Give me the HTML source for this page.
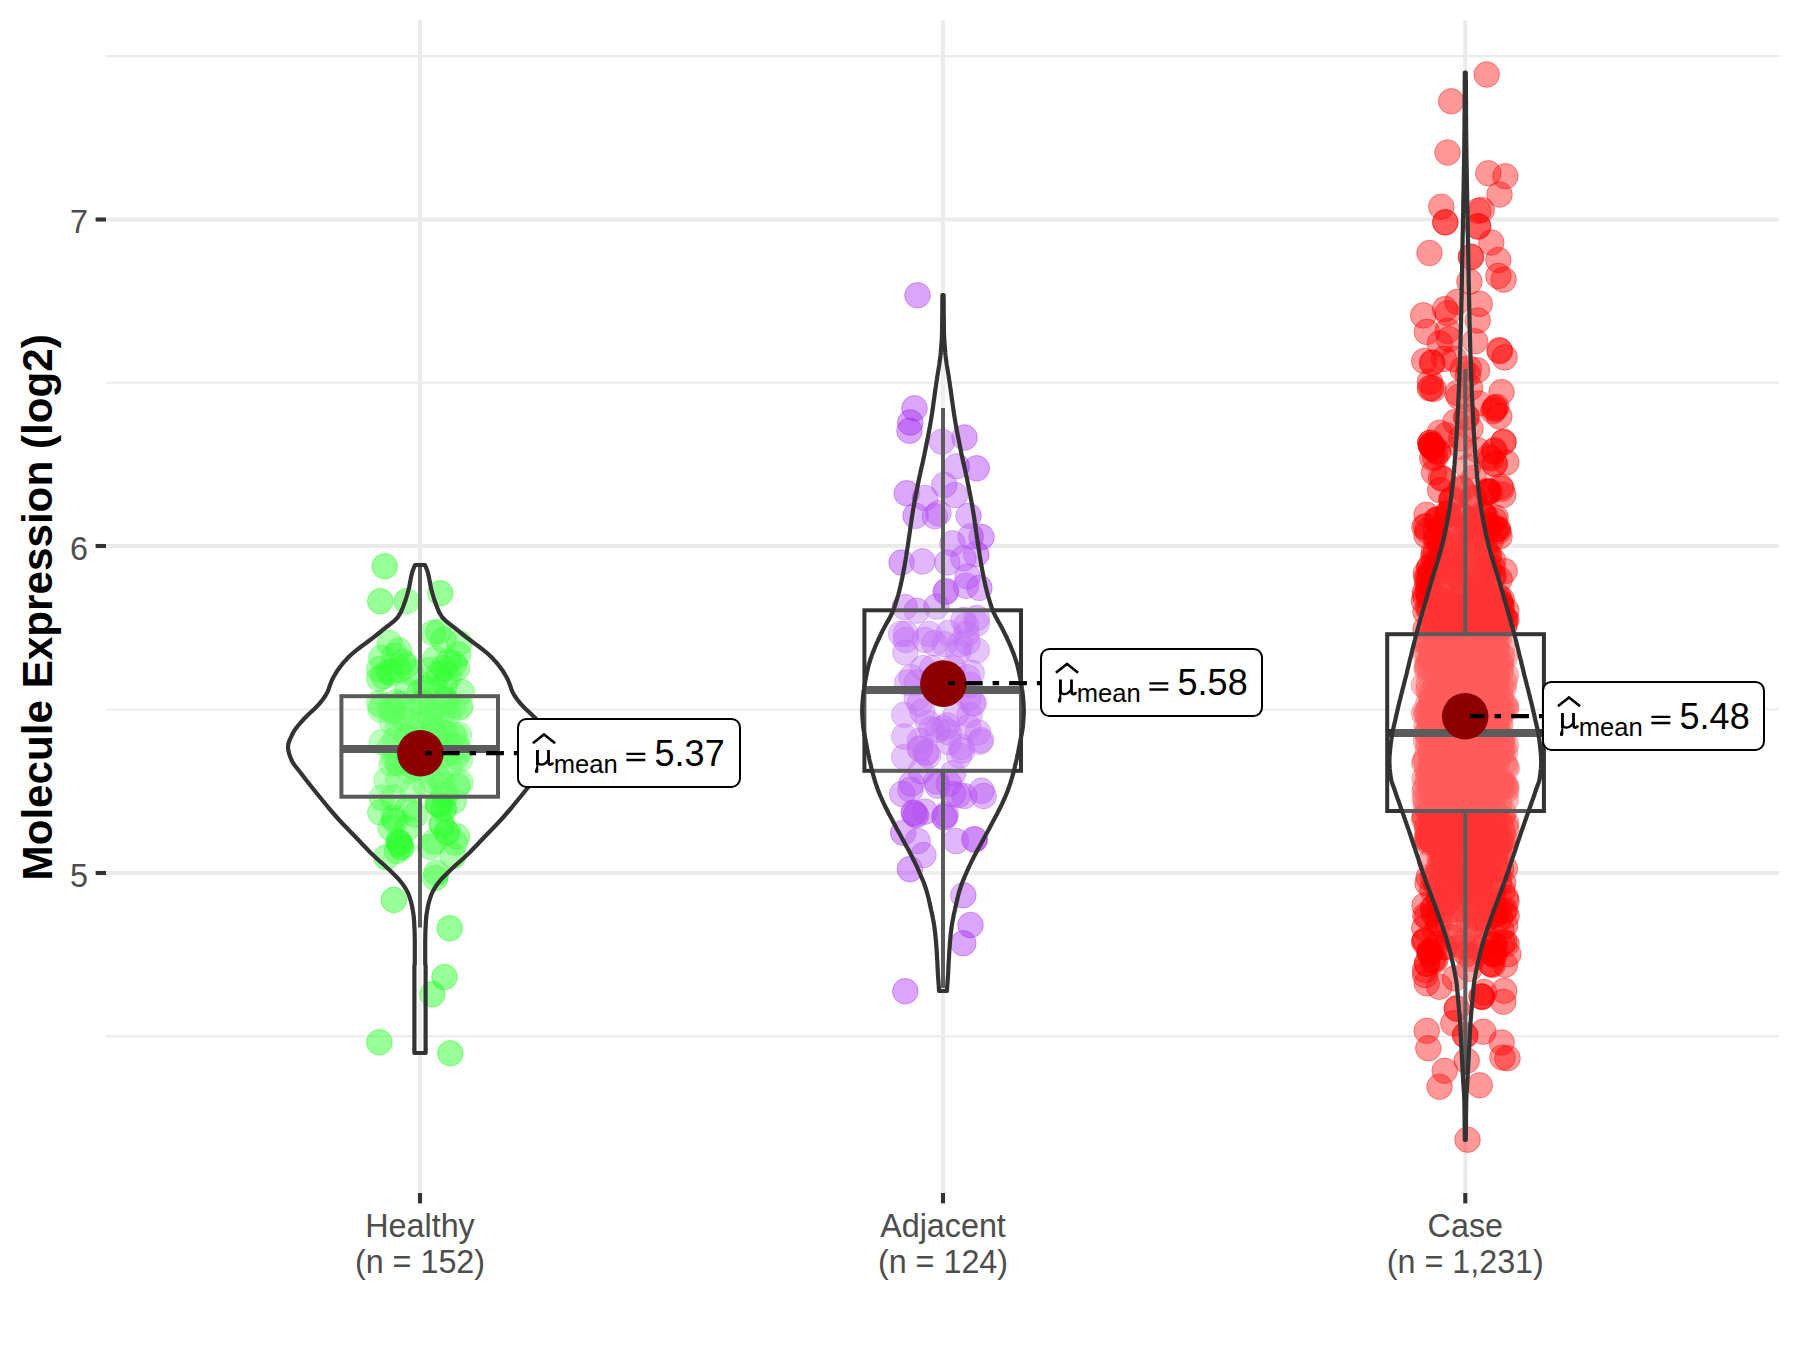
<!DOCTYPE html>
<html><head><meta charset="utf-8"><title>Molecule Expression</title>
<style>
html,body{margin:0;padding:0;background:#fff;}
body{width:1800px;height:1350px;overflow:hidden;font-family:"Liberation Sans",sans-serif;}
svg{display:block;}
</style></head><body>
<svg width="1800" height="1350" viewBox="0 0 1800 1350">
<rect width="1800" height="1350" fill="#fff"/>
<g stroke="#EBEBEB" fill="none">
<path d="M106 56.1 H1779" stroke-width="2.1"/>
<path d="M106 382.8 H1779" stroke-width="2.1"/>
<path d="M106 709.5 H1779" stroke-width="2.1"/>
<path d="M106 1036.4 H1779" stroke-width="2.1"/>
<path d="M106 219.5 H1779" stroke-width="3.9"/>
<path d="M106 546 H1779" stroke-width="3.9"/>
<path d="M106 873 H1779" stroke-width="3.9"/>
<path d="M420 20 V1193" stroke-width="3.9"/>
<path d="M943 20 V1193" stroke-width="3.9"/>
<path d="M1465.3 20 V1193" stroke-width="3.9"/>
</g>
<g stroke="#333333" stroke-width="4.1" fill="none">
<path d="M95.6 219.5 H106"/>
<path d="M95.6 546 H106"/>
<path d="M95.6 873 H106"/>
<path d="M420 1193 V1203.4"/>
<path d="M943 1193 V1203.4"/>
<path d="M1465.3 1193 V1203.4"/>
</g>
<g font-family="Liberation Sans, sans-serif" font-size="32.3" fill="#4D4D4D">
<text x="88" y="233.3" text-anchor="end">7</text>
<text x="88" y="559.8" text-anchor="end">6</text>
<text x="88" y="886.8" text-anchor="end">5</text>
<text x="420" y="1236.7" text-anchor="middle">Healthy</text>
<text x="420" y="1272.7" text-anchor="middle">(n = 152)</text>
<text x="943" y="1236.7" text-anchor="middle">Adjacent</text>
<text x="943" y="1272.7" text-anchor="middle">(n = 124)</text>
<text x="1465.3" y="1236.7" text-anchor="middle">Case</text>
<text x="1465.3" y="1272.7" text-anchor="middle">(n = 1,231)</text>
</g>
<text transform="translate(52.2 607.4) rotate(-90)" text-anchor="middle" font-family="Liberation Sans, sans-serif" font-weight="bold" font-size="42.2" fill="#000">Molecule Expression (log2)</text>
<g fill="#00FF00" fill-opacity="0.4" stroke="#00FF00" stroke-opacity="0.4" stroke-width="1">
<circle cx="384.7" cy="566.3" r="12.8"/><circle cx="380.3" cy="601.3" r="12.8"/><circle cx="406.7" cy="601.3" r="12.8"/><circle cx="440.3" cy="593.3" r="12.8"/><circle cx="393.8" cy="899.9" r="12.8"/><circle cx="449.7" cy="928.3" r="12.8"/><circle cx="444.5" cy="977" r="12.8"/><circle cx="432.3" cy="994.3" r="12.8"/><circle cx="379.3" cy="1042.3" r="12.8"/><circle cx="450.3" cy="1053.3" r="12.8"/><circle cx="433.2" cy="632.8" r="12.8"/><circle cx="438.4" cy="631.8" r="12.8"/><circle cx="443.5" cy="640.1" r="12.8"/><circle cx="459.1" cy="643.2" r="12.8"/><circle cx="458.1" cy="654.6" r="12.8"/><circle cx="435.2" cy="658.8" r="12.8"/><circle cx="448.7" cy="661.9" r="12.8"/><circle cx="453.9" cy="663.9" r="12.8"/><circle cx="443.5" cy="668.1" r="12.8"/><circle cx="438.4" cy="674.3" r="12.8"/><circle cx="448.7" cy="676.4" r="12.8"/><circle cx="434.2" cy="682.6" r="12.8"/><circle cx="444.6" cy="684.7" r="12.8"/><circle cx="457" cy="668.1" r="12.8"/><circle cx="430.1" cy="670.2" r="12.8"/><circle cx="461.7" cy="692" r="12.8"/><circle cx="425.9" cy="688.8" r="12.8"/><circle cx="419.7" cy="692" r="12.8"/><circle cx="389.6" cy="643.2" r="12.8"/><circle cx="398.9" cy="650.5" r="12.8"/><circle cx="381.3" cy="657.7" r="12.8"/><circle cx="394.8" cy="655.6" r="12.8"/><circle cx="403.1" cy="661.9" r="12.8"/><circle cx="379.2" cy="669.1" r="12.8"/><circle cx="388.6" cy="671.2" r="12.8"/><circle cx="398.9" cy="670.2" r="12.8"/><circle cx="383.4" cy="676.4" r="12.8"/><circle cx="390.6" cy="673.3" r="12.8"/><circle cx="379.2" cy="678.5" r="12.8"/><circle cx="406.2" cy="666" r="12.8"/><circle cx="411.4" cy="672.2" r="12.8"/><circle cx="407.2" cy="690.9" r="12.8"/><circle cx="379.2" cy="703.4" r="12.8"/><circle cx="380.3" cy="812.5" r="12.8"/><circle cx="393.8" cy="817.7" r="12.8"/><circle cx="394.8" cy="820.8" r="12.8"/><circle cx="407.2" cy="809.4" r="12.8"/><circle cx="415.5" cy="814.6" r="12.8"/><circle cx="438.4" cy="804.2" r="12.8"/><circle cx="438.9" cy="804.9" r="12.8"/><circle cx="437.6" cy="803.6" r="12.8"/><circle cx="443.5" cy="808.4" r="12.8"/><circle cx="444" cy="809" r="12.8"/><circle cx="453.9" cy="801.1" r="12.8"/><circle cx="441.5" cy="823.9" r="12.8"/><circle cx="442" cy="824.6" r="12.8"/><circle cx="446.7" cy="832.2" r="12.8"/><circle cx="447.2" cy="832.8" r="12.8"/><circle cx="457" cy="836.4" r="12.8"/><circle cx="455" cy="842.6" r="12.8"/><circle cx="434.2" cy="841.6" r="12.8"/><circle cx="430.1" cy="846.8" r="12.8"/><circle cx="398.9" cy="842.6" r="12.8"/><circle cx="399.4" cy="843.2" r="12.8"/><circle cx="398.2" cy="841.8" r="12.8"/><circle cx="399.9" cy="844" r="12.8"/><circle cx="401" cy="846.8" r="12.8"/><circle cx="401.6" cy="847.4" r="12.8"/><circle cx="396.9" cy="850.9" r="12.8"/><circle cx="386.5" cy="857.1" r="12.8"/><circle cx="452.9" cy="856.1" r="12.8"/><circle cx="436.3" cy="872.7" r="12.8"/><circle cx="435.2" cy="877.9" r="12.8"/><circle cx="407.2" cy="828.1" r="12.8"/><circle cx="390.6" cy="828.1" r="12.8"/><circle cx="422.8" cy="733.7" r="12.8"/><circle cx="391.5" cy="763.6" r="12.8"/><circle cx="424" cy="752.9" r="12.8"/><circle cx="381.7" cy="706" r="12.8"/><circle cx="422.8" cy="703.9" r="12.8"/><circle cx="459.7" cy="707.6" r="12.8"/><circle cx="450.3" cy="743.3" r="12.8"/><circle cx="436.6" cy="713.7" r="12.8"/><circle cx="400.9" cy="761.4" r="12.8"/><circle cx="409.6" cy="756.9" r="12.8"/><circle cx="393.2" cy="797.5" r="12.8"/><circle cx="442.8" cy="783.8" r="12.8"/><circle cx="423.2" cy="715.6" r="12.8"/><circle cx="443.4" cy="732.3" r="12.8"/><circle cx="406.5" cy="720.1" r="12.8"/><circle cx="397.8" cy="761.9" r="12.8"/><circle cx="446" cy="753.6" r="12.8"/><circle cx="460.3" cy="706.7" r="12.8"/><circle cx="449.4" cy="765.9" r="12.8"/><circle cx="445.6" cy="733.1" r="12.8"/><circle cx="446.6" cy="744.8" r="12.8"/><circle cx="440.2" cy="778.2" r="12.8"/><circle cx="398.1" cy="726.1" r="12.8"/><circle cx="421.9" cy="752.4" r="12.8"/><circle cx="408.7" cy="770.8" r="12.8"/><circle cx="381.9" cy="797.6" r="12.8"/><circle cx="381.8" cy="742.3" r="12.8"/><circle cx="402.4" cy="717" r="12.8"/><circle cx="400.8" cy="704.2" r="12.8"/><circle cx="436.3" cy="775.1" r="12.8"/><circle cx="457.9" cy="785.8" r="12.8"/><circle cx="416.2" cy="768.1" r="12.8"/><circle cx="456.3" cy="757" r="12.8"/><circle cx="460.5" cy="782.4" r="12.8"/><circle cx="457.8" cy="747.2" r="12.8"/><circle cx="409.4" cy="707.2" r="12.8"/><circle cx="397.6" cy="763.5" r="12.8"/><circle cx="398.1" cy="779.8" r="12.8"/><circle cx="395.6" cy="739.2" r="12.8"/><circle cx="396.3" cy="702" r="12.8"/><circle cx="430.7" cy="717.6" r="12.8"/><circle cx="453.3" cy="706.3" r="12.8"/><circle cx="448.4" cy="713.7" r="12.8"/><circle cx="418.8" cy="740.4" r="12.8"/><circle cx="433" cy="708.9" r="12.8"/><circle cx="445.1" cy="754.4" r="12.8"/><circle cx="386.5" cy="780.4" r="12.8"/><circle cx="433.7" cy="728.9" r="12.8"/><circle cx="454.1" cy="737.4" r="12.8"/><circle cx="443.6" cy="794.7" r="12.8"/><circle cx="441" cy="718.7" r="12.8"/><circle cx="418.7" cy="725" r="12.8"/><circle cx="394.1" cy="757.8" r="12.8"/><circle cx="444.2" cy="699.9" r="12.8"/><circle cx="406.8" cy="738.1" r="12.8"/><circle cx="445.2" cy="795.2" r="12.8"/><circle cx="459.2" cy="751.1" r="12.8"/><circle cx="412" cy="765.6" r="12.8"/><circle cx="412.4" cy="789.3" r="12.8"/><circle cx="457.1" cy="786.3" r="12.8"/><circle cx="438.9" cy="739.9" r="12.8"/><circle cx="393.4" cy="711.1" r="12.8"/><circle cx="389.9" cy="706.6" r="12.8"/><circle cx="391.9" cy="721.7" r="12.8"/><circle cx="453.7" cy="734.6" r="12.8"/><circle cx="445.6" cy="699.7" r="12.8"/><circle cx="391.5" cy="710.9" r="12.8"/><circle cx="447.3" cy="703.4" r="12.8"/><circle cx="459.9" cy="759.6" r="12.8"/><circle cx="433.4" cy="726.8" r="12.8"/><circle cx="408.2" cy="736.6" r="12.8"/><circle cx="424.5" cy="783.5" r="12.8"/><circle cx="390.2" cy="747" r="12.8"/><circle cx="380.7" cy="709.6" r="12.8"/><circle cx="459.1" cy="734.8" r="12.8"/><circle cx="432.8" cy="780.7" r="12.8"/><circle cx="422.7" cy="702.5" r="12.8"/>
</g>
<g fill="#A020F0" fill-opacity="0.4" stroke="#A020F0" stroke-opacity="0.4" stroke-width="1">
<circle cx="917.5" cy="295.3" r="12.8"/><circle cx="914.5" cy="408.3" r="12.8"/><circle cx="910.3" cy="422.5" r="12.8"/><circle cx="909.5" cy="430.8" r="12.8"/><circle cx="942" cy="441.7" r="12.8"/><circle cx="964.5" cy="437.5" r="12.8"/><circle cx="956.7" cy="466.2" r="12.8"/><circle cx="976.7" cy="468.3" r="12.8"/><circle cx="944.2" cy="485" r="12.8"/><circle cx="906.7" cy="493.3" r="12.8"/><circle cx="955" cy="495" r="12.8"/><circle cx="925" cy="498" r="12.8"/><circle cx="915.6" cy="515.8" r="12.8"/><circle cx="934.8" cy="516.3" r="12.8"/><circle cx="938.5" cy="513.2" r="12.8"/><circle cx="968.5" cy="515.8" r="12.8"/><circle cx="970.6" cy="536.5" r="12.8"/><circle cx="981.5" cy="537.1" r="12.8"/><circle cx="952.5" cy="543.3" r="12.8"/><circle cx="901.6" cy="562.5" r="12.8"/><circle cx="922.4" cy="561.4" r="12.8"/><circle cx="947.3" cy="562.5" r="12.8"/><circle cx="963.4" cy="558.3" r="12.8"/><circle cx="976.3" cy="554.2" r="12.8"/><circle cx="967.5" cy="576.5" r="12.8"/><circle cx="966" cy="585.8" r="12.8"/><circle cx="979.4" cy="587.9" r="12.8"/><circle cx="946.2" cy="591" r="12.8"/><circle cx="945.7" cy="592" r="12.8"/><circle cx="904.8" cy="607.1" r="12.8"/><circle cx="916.7" cy="610.7" r="12.8"/><circle cx="936.4" cy="606.6" r="12.8"/><circle cx="976.8" cy="618" r="12.8"/><circle cx="963.4" cy="620" r="12.8"/><circle cx="901.1" cy="633.9" r="12.8"/><circle cx="905.8" cy="633.9" r="12.8"/><circle cx="929.1" cy="633.9" r="12.8"/><circle cx="966.5" cy="633.9" r="12.8"/><circle cx="976.8" cy="623.5" r="12.8"/><circle cx="966" cy="625.6" r="12.8"/><circle cx="948.8" cy="632.8" r="12.8"/><circle cx="905.8" cy="640" r="12.8"/><circle cx="925" cy="640" r="12.8"/><circle cx="934.3" cy="643.2" r="12.8"/><circle cx="944.7" cy="644.2" r="12.8"/><circle cx="960.3" cy="644.2" r="12.8"/><circle cx="967.5" cy="642.2" r="12.8"/><circle cx="905.3" cy="652.5" r="12.8"/><circle cx="976.8" cy="650.5" r="12.8"/><circle cx="958.2" cy="651.5" r="12.8"/><circle cx="922.9" cy="668.1" r="12.8"/><circle cx="911.5" cy="677.4" r="12.8"/><circle cx="907.3" cy="682.6" r="12.8"/><circle cx="916.7" cy="682.6" r="12.8"/><circle cx="967.5" cy="677.4" r="12.8"/><circle cx="969.6" cy="684.7" r="12.8"/><circle cx="932.2" cy="668.1" r="12.8"/><circle cx="953" cy="668" r="12.8"/><circle cx="904.2" cy="714.8" r="12.8"/><circle cx="922.4" cy="711.7" r="12.8"/><circle cx="928.1" cy="723.1" r="12.8"/><circle cx="956.1" cy="713.7" r="12.8"/><circle cx="969.6" cy="714.8" r="12.8"/><circle cx="968.5" cy="727.2" r="12.8"/><circle cx="977.9" cy="732.4" r="12.8"/><circle cx="904.2" cy="736.6" r="12.8"/><circle cx="919.8" cy="740.7" r="12.8"/><circle cx="931.2" cy="729.3" r="12.8"/><circle cx="948.8" cy="732.4" r="12.8"/><circle cx="961.3" cy="746.9" r="12.8"/><circle cx="980" cy="741.7" r="12.8"/><circle cx="916.7" cy="698.2" r="12.8"/><circle cx="968.5" cy="698.2" r="12.8"/><circle cx="973.7" cy="703.4" r="12.8"/><circle cx="919.8" cy="703.4" r="12.8"/><circle cx="904.2" cy="757.1" r="12.8"/><circle cx="919.8" cy="748.3" r="12.8"/><circle cx="920.3" cy="748.9" r="12.8"/><circle cx="926" cy="752.4" r="12.8"/><circle cx="926.5" cy="753" r="12.8"/><circle cx="928.1" cy="755.6" r="12.8"/><circle cx="959.2" cy="755.6" r="12.8"/><circle cx="962.3" cy="750.4" r="12.8"/><circle cx="981" cy="740" r="12.8"/><circle cx="948.8" cy="742" r="12.8"/><circle cx="920.8" cy="771.1" r="12.8"/><circle cx="953" cy="773.2" r="12.8"/><circle cx="911.5" cy="783.6" r="12.8"/><circle cx="902.2" cy="793.9" r="12.8"/><circle cx="910.5" cy="789.8" r="12.8"/><circle cx="936.4" cy="781.5" r="12.8"/><circle cx="937.4" cy="785.6" r="12.8"/><circle cx="948.8" cy="783.6" r="12.8"/><circle cx="953" cy="793.9" r="12.8"/><circle cx="958.2" cy="795" r="12.8"/><circle cx="964.4" cy="796" r="12.8"/><circle cx="981.5" cy="790.8" r="12.8"/><circle cx="983.6" cy="796" r="12.8"/><circle cx="913.6" cy="812.6" r="12.8"/><circle cx="914.1" cy="813.2" r="12.8"/><circle cx="915.6" cy="814.7" r="12.8"/><circle cx="916.1" cy="815.3" r="12.8"/><circle cx="925" cy="811.6" r="12.8"/><circle cx="944.2" cy="816.8" r="12.8"/><circle cx="944.7" cy="817.4" r="12.8"/><circle cx="945.7" cy="814.7" r="12.8"/><circle cx="903.2" cy="832.8" r="12.8"/><circle cx="917.7" cy="841.1" r="12.8"/><circle cx="923.4" cy="855.1" r="12.8"/><circle cx="909.9" cy="869.1" r="12.8"/><circle cx="956.1" cy="841.1" r="12.8"/><circle cx="974.3" cy="839.1" r="12.8"/><circle cx="974.8" cy="839.7" r="12.8"/><circle cx="963.3" cy="895.3" r="12.8"/><circle cx="970.5" cy="925" r="12.8"/><circle cx="963.3" cy="943.3" r="12.8"/><circle cx="905.3" cy="991.3" r="12.8"/><circle cx="937.8" cy="729.9" r="12.8"/><circle cx="947.3" cy="725.3" r="12.8"/><circle cx="971.7" cy="672.8" r="12.8"/><circle cx="935" cy="678.7" r="12.8"/><circle cx="972.7" cy="702.8" r="12.8"/><circle cx="941.1" cy="689.6" r="12.8"/><circle cx="943.4" cy="727.9" r="12.8"/>
</g>
<g fill="#FF0000" fill-opacity="0.4" stroke="#FF0000" stroke-opacity="0.4" stroke-width="1">
<circle cx="1486.7" cy="74.5" r="12.8"/><circle cx="1451.2" cy="101.3" r="12.8"/><circle cx="1447.5" cy="152.5" r="12.8"/><circle cx="1488.3" cy="173.3" r="12.8"/><circle cx="1505.3" cy="176.3" r="12.8"/><circle cx="1499.5" cy="194.5" r="12.8"/><circle cx="1441.3" cy="206.7" r="12.8"/><circle cx="1445.3" cy="222.2" r="12.8"/><circle cx="1445.3" cy="222.4" r="12.8"/><circle cx="1478.3" cy="210.8" r="12.8"/><circle cx="1481.7" cy="210" r="12.8"/><circle cx="1478" cy="226.3" r="12.8"/><circle cx="1478.2" cy="226.6" r="12.8"/><circle cx="1491.3" cy="242.5" r="12.8"/><circle cx="1429.5" cy="253" r="12.8"/><circle cx="1470.8" cy="256.7" r="12.8"/><circle cx="1471.2" cy="257" r="12.8"/><circle cx="1498.3" cy="260" r="12.8"/><circle cx="1426.7" cy="1030.8" r="12.8"/><circle cx="1428.3" cy="1048.3" r="12.8"/><circle cx="1444.7" cy="1070.8" r="12.8"/><circle cx="1439.5" cy="1086.7" r="12.8"/><circle cx="1466.7" cy="1060.8" r="12.8"/><circle cx="1479.7" cy="1085.3" r="12.8"/><circle cx="1501.7" cy="1042.5" r="12.8"/><circle cx="1502.5" cy="1057.5" r="12.8"/><circle cx="1507.5" cy="1058.3" r="12.8"/><circle cx="1483.3" cy="1031.7" r="12.8"/><circle cx="1453.3" cy="1023.3" r="12.8"/><circle cx="1465" cy="1035" r="12.8"/><circle cx="1465.4" cy="1035.4" r="12.8"/><circle cx="1456.7" cy="1008.3" r="12.8"/><circle cx="1457" cy="1008.8" r="12.8"/><circle cx="1503.3" cy="1001.7" r="12.8"/><circle cx="1504.2" cy="990.8" r="12.8"/><circle cx="1481.7" cy="996.7" r="12.8"/><circle cx="1482" cy="997" r="12.8"/><circle cx="1481.4" cy="996.2" r="12.8"/><circle cx="1426.7" cy="983.3" r="12.8"/><circle cx="1439.2" cy="986.7" r="12.8"/><circle cx="1425" cy="970" r="12.8"/><circle cx="1455" cy="978.3" r="12.8"/><circle cx="1508.3" cy="954.2" r="12.8"/><circle cx="1467.5" cy="1139.7" r="12.8"/><circle cx="1469.4" cy="281.6" r="12.8"/><circle cx="1498.4" cy="275.9" r="12.8"/><circle cx="1503.6" cy="279.6" r="12.8"/><circle cx="1457.4" cy="301.9" r="12.8"/><circle cx="1479.7" cy="303.9" r="12.8"/><circle cx="1445" cy="309.1" r="12.8"/><circle cx="1447.6" cy="313.3" r="12.8"/><circle cx="1423.2" cy="315.4" r="12.8"/><circle cx="1477.7" cy="320.5" r="12.8"/><circle cx="1426.8" cy="331.9" r="12.8"/><circle cx="1447.6" cy="330.9" r="12.8"/><circle cx="1439.8" cy="343.4" r="12.8"/><circle cx="1449.1" cy="339.2" r="12.8"/><circle cx="1475.1" cy="341.3" r="12.8"/><circle cx="1499.4" cy="350.1" r="12.8"/><circle cx="1500" cy="351.1" r="12.8"/><circle cx="1504.6" cy="357.4" r="12.8"/><circle cx="1424.2" cy="361" r="12.8"/><circle cx="1432" cy="362.6" r="12.8"/><circle cx="1432.4" cy="363" r="12.8"/><circle cx="1443.9" cy="358.9" r="12.8"/><circle cx="1454.3" cy="358.9" r="12.8"/><circle cx="1462.6" cy="369.3" r="12.8"/><circle cx="1468.8" cy="368.3" r="12.8"/><circle cx="1477.1" cy="370.3" r="12.8"/><circle cx="1467.8" cy="374.5" r="12.8"/><circle cx="1429.9" cy="381.7" r="12.8"/><circle cx="1433.6" cy="389" r="12.8"/><circle cx="1501.5" cy="392.1" r="12.8"/><circle cx="1457.4" cy="393" r="12.8"/><circle cx="1429.8" cy="388.3" r="12.8"/><circle cx="1431.2" cy="388" r="12.8"/><circle cx="1459" cy="396.7" r="12.8"/><circle cx="1470" cy="388" r="12.8"/><circle cx="1478.6" cy="403.5" r="12.8"/><circle cx="1494.6" cy="407.7" r="12.8"/><circle cx="1494.6" cy="409.2" r="12.8"/><circle cx="1496.4" cy="406.9" r="12.8"/><circle cx="1499.3" cy="416.5" r="12.8"/><circle cx="1493.2" cy="411.3" r="12.8"/><circle cx="1455.4" cy="421.9" r="12.8"/><circle cx="1466.9" cy="416.9" r="12.8"/><circle cx="1465.9" cy="417.4" r="12.8"/><circle cx="1470.5" cy="428.5" r="12.8"/><circle cx="1439.6" cy="432.7" r="12.8"/><circle cx="1446.1" cy="435.2" r="12.8"/><circle cx="1431.5" cy="446.7" r="12.8"/><circle cx="1431.4" cy="445.5" r="12.8"/><circle cx="1433" cy="447.7" r="12.8"/><circle cx="1432.5" cy="446.8" r="12.8"/><circle cx="1430.9" cy="445.4" r="12.8"/><circle cx="1430.9" cy="444.9" r="12.8"/><circle cx="1430.2" cy="442.8" r="12.8"/><circle cx="1430.4" cy="442.8" r="12.8"/><circle cx="1438.1" cy="452.4" r="12.8"/><circle cx="1435.2" cy="450.5" r="12.8"/><circle cx="1437.9" cy="451.3" r="12.8"/><circle cx="1435" cy="457.3" r="12.8"/><circle cx="1432.3" cy="458" r="12.8"/><circle cx="1461.3" cy="438.2" r="12.8"/><circle cx="1461.4" cy="446.7" r="12.8"/><circle cx="1477.5" cy="450.1" r="12.8"/><circle cx="1503.5" cy="442.3" r="12.8"/><circle cx="1503.4" cy="441.8" r="12.8"/><circle cx="1494.6" cy="450.4" r="12.8"/><circle cx="1493.9" cy="451.2" r="12.8"/><circle cx="1506.3" cy="462.5" r="12.8"/><circle cx="1494.7" cy="464.2" r="12.8"/><circle cx="1494.6" cy="463.6" r="12.8"/><circle cx="1488.7" cy="456.9" r="12.8"/><circle cx="1491" cy="458.5" r="12.8"/><circle cx="1434" cy="472.3" r="12.8"/><circle cx="1441" cy="478.1" r="12.8"/><circle cx="1443" cy="478.8" r="12.8"/><circle cx="1440.1" cy="490.2" r="12.8"/><circle cx="1467.9" cy="467.3" r="12.8"/><circle cx="1473.8" cy="477.9" r="12.8"/><circle cx="1487.9" cy="490.5" r="12.8"/><circle cx="1487.3" cy="492" r="12.8"/><circle cx="1487.7" cy="492.1" r="12.8"/><circle cx="1488.1" cy="491.7" r="12.8"/><circle cx="1489.9" cy="491.8" r="12.8"/><circle cx="1501.7" cy="488.8" r="12.8"/><circle cx="1500.5" cy="486.7" r="12.8"/><circle cx="1503.2" cy="494.9" r="12.8"/><circle cx="1426.5" cy="514.8" r="12.8"/><circle cx="1437.4" cy="520.1" r="12.8"/><circle cx="1435.8" cy="520.2" r="12.8"/><circle cx="1437.8" cy="519.1" r="12.8"/><circle cx="1495.6" cy="517.6" r="12.8"/><circle cx="1494.4" cy="520.2" r="12.8"/><circle cx="1451.4" cy="499.7" r="12.8"/><circle cx="1451.5" cy="500.1" r="12.8"/><circle cx="1452.5" cy="498.5" r="12.8"/><circle cx="1461.6" cy="489.4" r="12.8"/><circle cx="1461.3" cy="487.9" r="12.8"/><circle cx="1462.8" cy="489.8" r="12.8"/><circle cx="1473.3" cy="498.4" r="12.8"/><circle cx="1474.3" cy="498.2" r="12.8"/><circle cx="1471.5" cy="498.4" r="12.8"/><circle cx="1447.8" cy="513.4" r="12.8"/><circle cx="1447" cy="514.3" r="12.8"/><circle cx="1448.2" cy="513.6" r="12.8"/><circle cx="1483" cy="515.9" r="12.8"/><circle cx="1484.8" cy="515.2" r="12.8"/><circle cx="1484" cy="515" r="12.8"/><circle cx="1482.3" cy="513.3" r="12.8"/><circle cx="1461.2" cy="515.9" r="12.8"/><circle cx="1463.2" cy="516.1" r="12.8"/><circle cx="1461.2" cy="515.1" r="12.8"/><circle cx="1472.9" cy="520.7" r="12.8"/><circle cx="1472.5" cy="521.5" r="12.8"/><circle cx="1471.7" cy="520.1" r="12.8"/><circle cx="1430.1" cy="952.5" r="12.8"/><circle cx="1430.1" cy="951.9" r="12.8"/><circle cx="1430.3" cy="952.5" r="12.8"/><circle cx="1429" cy="951.9" r="12.8"/><circle cx="1430.6" cy="952.4" r="12.8"/><circle cx="1424" cy="941.8" r="12.8"/><circle cx="1425.3" cy="941.1" r="12.8"/><circle cx="1424.6" cy="940.5" r="12.8"/><circle cx="1433.8" cy="959.9" r="12.8"/><circle cx="1432.3" cy="960" r="12.8"/><circle cx="1435.1" cy="960.7" r="12.8"/><circle cx="1427" cy="963.4" r="12.8"/><circle cx="1427" cy="963.9" r="12.8"/><circle cx="1425.1" cy="975.1" r="12.8"/><circle cx="1466.6" cy="954.2" r="12.8"/><circle cx="1466.4" cy="953.7" r="12.8"/><circle cx="1471.9" cy="958.8" r="12.8"/><circle cx="1469.4" cy="968.9" r="12.8"/><circle cx="1462.9" cy="947.3" r="12.8"/><circle cx="1461.9" cy="944.5" r="12.8"/><circle cx="1493.1" cy="953.9" r="12.8"/><circle cx="1492.8" cy="952.4" r="12.8"/><circle cx="1494.9" cy="953.9" r="12.8"/><circle cx="1493.5" cy="954.6" r="12.8"/><circle cx="1491.2" cy="964.2" r="12.8"/><circle cx="1490.8" cy="963.5" r="12.8"/><circle cx="1492.6" cy="964.9" r="12.8"/><circle cx="1494.8" cy="944.7" r="12.8"/><circle cx="1493.9" cy="944.4" r="12.8"/><circle cx="1492.6" cy="945" r="12.8"/><circle cx="1505" cy="964.7" r="12.8"/><circle cx="1484" cy="992.1" r="12.8"/><circle cx="1444.3" cy="947" r="12.8"/><circle cx="1444.9" cy="947.3" r="12.8"/><circle cx="1479.1" cy="949.7" r="12.8"/><circle cx="1480.4" cy="950" r="12.8"/><circle cx="1502.4" cy="943" r="12.8"/><circle cx="1504.4" cy="941.9" r="12.8"/><circle cx="1499.2" cy="748.5" r="12.8"/><circle cx="1488.1" cy="724.7" r="12.8"/><circle cx="1497.1" cy="529.3" r="12.8"/><circle cx="1495.3" cy="632" r="12.8"/><circle cx="1434.8" cy="807.1" r="12.8"/><circle cx="1446.8" cy="690" r="12.8"/><circle cx="1426.3" cy="758.3" r="12.8"/><circle cx="1480.2" cy="601.1" r="12.8"/><circle cx="1478.9" cy="662.8" r="12.8"/><circle cx="1453" cy="822" r="12.8"/><circle cx="1458" cy="759.3" r="12.8"/><circle cx="1478.5" cy="881.9" r="12.8"/><circle cx="1481.8" cy="773" r="12.8"/><circle cx="1444.4" cy="746.2" r="12.8"/><circle cx="1494.1" cy="729" r="12.8"/><circle cx="1453" cy="736.4" r="12.8"/><circle cx="1476" cy="799.4" r="12.8"/><circle cx="1438.9" cy="898.8" r="12.8"/><circle cx="1433.4" cy="759.4" r="12.8"/><circle cx="1499.6" cy="847.6" r="12.8"/><circle cx="1484.7" cy="608.9" r="12.8"/><circle cx="1482.9" cy="581.7" r="12.8"/><circle cx="1427.2" cy="583.2" r="12.8"/><circle cx="1427.1" cy="827.4" r="12.8"/><circle cx="1437.2" cy="625.2" r="12.8"/><circle cx="1440.2" cy="786.6" r="12.8"/><circle cx="1449" cy="867.5" r="12.8"/><circle cx="1455.4" cy="652.5" r="12.8"/><circle cx="1427.1" cy="713" r="12.8"/><circle cx="1449.6" cy="937.3" r="12.8"/><circle cx="1476.8" cy="627.9" r="12.8"/><circle cx="1438.7" cy="746.8" r="12.8"/><circle cx="1493.5" cy="641.8" r="12.8"/><circle cx="1471.1" cy="805.5" r="12.8"/><circle cx="1483.3" cy="756.9" r="12.8"/><circle cx="1444.9" cy="542.8" r="12.8"/><circle cx="1459.9" cy="777" r="12.8"/><circle cx="1480.6" cy="577.5" r="12.8"/><circle cx="1452.8" cy="828.5" r="12.8"/><circle cx="1423.9" cy="600.8" r="12.8"/><circle cx="1493" cy="560.3" r="12.8"/><circle cx="1488.2" cy="670.6" r="12.8"/><circle cx="1447.6" cy="720.4" r="12.8"/><circle cx="1427.4" cy="839.8" r="12.8"/><circle cx="1494.7" cy="622.4" r="12.8"/><circle cx="1474.2" cy="762.2" r="12.8"/><circle cx="1427.7" cy="591.6" r="12.8"/><circle cx="1444.1" cy="794.9" r="12.8"/><circle cx="1433" cy="582.4" r="12.8"/><circle cx="1489.5" cy="780.3" r="12.8"/><circle cx="1441.2" cy="589.4" r="12.8"/><circle cx="1499.7" cy="579.4" r="12.8"/><circle cx="1486" cy="728.8" r="12.8"/><circle cx="1430.9" cy="757.4" r="12.8"/><circle cx="1481.5" cy="669.6" r="12.8"/><circle cx="1456.5" cy="749.7" r="12.8"/><circle cx="1485.8" cy="602.7" r="12.8"/><circle cx="1492.6" cy="567.7" r="12.8"/><circle cx="1447.1" cy="684.8" r="12.8"/><circle cx="1431.3" cy="817.8" r="12.8"/><circle cx="1502.3" cy="741.7" r="12.8"/><circle cx="1459" cy="696.5" r="12.8"/><circle cx="1501" cy="662.5" r="12.8"/><circle cx="1481.2" cy="809.1" r="12.8"/><circle cx="1485.1" cy="640" r="12.8"/><circle cx="1492.7" cy="893.6" r="12.8"/><circle cx="1475.9" cy="839.9" r="12.8"/><circle cx="1461.4" cy="741.3" r="12.8"/><circle cx="1428.3" cy="711" r="12.8"/><circle cx="1481.8" cy="795.5" r="12.8"/><circle cx="1459.4" cy="695.3" r="12.8"/><circle cx="1466.3" cy="801.1" r="12.8"/><circle cx="1500.8" cy="714.8" r="12.8"/><circle cx="1434.4" cy="570.6" r="12.8"/><circle cx="1487" cy="581.2" r="12.8"/><circle cx="1427.4" cy="664.7" r="12.8"/><circle cx="1482.1" cy="589.3" r="12.8"/><circle cx="1490.7" cy="861.2" r="12.8"/><circle cx="1445.5" cy="674.7" r="12.8"/><circle cx="1469.2" cy="679" r="12.8"/><circle cx="1504.3" cy="625.9" r="12.8"/><circle cx="1476.7" cy="668.5" r="12.8"/><circle cx="1468.9" cy="921" r="12.8"/><circle cx="1444.5" cy="661.5" r="12.8"/><circle cx="1428.7" cy="683.9" r="12.8"/><circle cx="1453.5" cy="525.9" r="12.8"/><circle cx="1458" cy="735" r="12.8"/><circle cx="1440.5" cy="644" r="12.8"/><circle cx="1449.6" cy="529.8" r="12.8"/><circle cx="1435.1" cy="591.9" r="12.8"/><circle cx="1482.5" cy="561.5" r="12.8"/><circle cx="1479.4" cy="682.7" r="12.8"/><circle cx="1443.5" cy="766" r="12.8"/><circle cx="1443.9" cy="815.2" r="12.8"/><circle cx="1466.6" cy="804.4" r="12.8"/><circle cx="1460.7" cy="709.8" r="12.8"/><circle cx="1501.5" cy="930.6" r="12.8"/><circle cx="1453" cy="806.1" r="12.8"/><circle cx="1448.6" cy="563.3" r="12.8"/><circle cx="1497.2" cy="871.1" r="12.8"/><circle cx="1435.6" cy="809.3" r="12.8"/><circle cx="1470.6" cy="618" r="12.8"/><circle cx="1451.5" cy="744.3" r="12.8"/><circle cx="1491.5" cy="834.3" r="12.8"/><circle cx="1469.3" cy="766.4" r="12.8"/><circle cx="1486.9" cy="794.2" r="12.8"/><circle cx="1437.8" cy="655.5" r="12.8"/><circle cx="1479.1" cy="614.9" r="12.8"/><circle cx="1473.5" cy="601.3" r="12.8"/><circle cx="1462.1" cy="759.1" r="12.8"/><circle cx="1487.4" cy="777.2" r="12.8"/><circle cx="1492.8" cy="738.5" r="12.8"/><circle cx="1433.3" cy="832.2" r="12.8"/><circle cx="1447.8" cy="743" r="12.8"/><circle cx="1453.7" cy="786.6" r="12.8"/><circle cx="1440.9" cy="809.8" r="12.8"/><circle cx="1428.8" cy="582.8" r="12.8"/><circle cx="1447.1" cy="807.7" r="12.8"/><circle cx="1440.2" cy="811.5" r="12.8"/><circle cx="1482" cy="740.9" r="12.8"/><circle cx="1461" cy="736.2" r="12.8"/><circle cx="1433.2" cy="821.1" r="12.8"/><circle cx="1450.7" cy="781.6" r="12.8"/><circle cx="1462.7" cy="620.8" r="12.8"/><circle cx="1453.9" cy="812.8" r="12.8"/><circle cx="1437.8" cy="760.5" r="12.8"/><circle cx="1429.8" cy="574.8" r="12.8"/><circle cx="1424.7" cy="790.2" r="12.8"/><circle cx="1506.1" cy="790.8" r="12.8"/><circle cx="1486.1" cy="747" r="12.8"/><circle cx="1430.8" cy="732.6" r="12.8"/><circle cx="1483.3" cy="871.7" r="12.8"/><circle cx="1505.2" cy="925.4" r="12.8"/><circle cx="1470.6" cy="542" r="12.8"/><circle cx="1432.8" cy="840.5" r="12.8"/><circle cx="1464.4" cy="727.8" r="12.8"/><circle cx="1459.8" cy="648.4" r="12.8"/><circle cx="1439.6" cy="648.1" r="12.8"/><circle cx="1468.9" cy="619" r="12.8"/><circle cx="1424.5" cy="905.6" r="12.8"/><circle cx="1500.1" cy="840" r="12.8"/><circle cx="1477.3" cy="869.2" r="12.8"/><circle cx="1475.9" cy="656.4" r="12.8"/><circle cx="1501.4" cy="737.5" r="12.8"/><circle cx="1478" cy="528" r="12.8"/><circle cx="1444.7" cy="727.8" r="12.8"/><circle cx="1444.2" cy="617.8" r="12.8"/><circle cx="1435.3" cy="687.3" r="12.8"/><circle cx="1426.1" cy="526.3" r="12.8"/><circle cx="1488.1" cy="847.6" r="12.8"/><circle cx="1493.5" cy="889.2" r="12.8"/><circle cx="1448.4" cy="875.8" r="12.8"/><circle cx="1439.2" cy="704.9" r="12.8"/><circle cx="1476.8" cy="947.1" r="12.8"/><circle cx="1494" cy="700.9" r="12.8"/><circle cx="1500.7" cy="671.5" r="12.8"/><circle cx="1437.8" cy="599.3" r="12.8"/><circle cx="1488.9" cy="676.4" r="12.8"/><circle cx="1492.7" cy="662.8" r="12.8"/><circle cx="1485.4" cy="744.7" r="12.8"/><circle cx="1450.9" cy="705.5" r="12.8"/><circle cx="1439.1" cy="867.3" r="12.8"/><circle cx="1492.3" cy="779.4" r="12.8"/><circle cx="1450.4" cy="898" r="12.8"/><circle cx="1454.4" cy="804.5" r="12.8"/><circle cx="1469.5" cy="809" r="12.8"/><circle cx="1454.4" cy="816.1" r="12.8"/><circle cx="1492.8" cy="675.5" r="12.8"/><circle cx="1443.7" cy="888.6" r="12.8"/><circle cx="1427.2" cy="733.8" r="12.8"/><circle cx="1470.9" cy="680.2" r="12.8"/><circle cx="1475.9" cy="923.8" r="12.8"/><circle cx="1491.8" cy="785.8" r="12.8"/><circle cx="1482.4" cy="757.9" r="12.8"/><circle cx="1498.9" cy="629.7" r="12.8"/><circle cx="1502.2" cy="647.4" r="12.8"/><circle cx="1464.8" cy="741.7" r="12.8"/><circle cx="1465.3" cy="878.5" r="12.8"/><circle cx="1436.9" cy="727.6" r="12.8"/><circle cx="1448.7" cy="640.6" r="12.8"/><circle cx="1472" cy="694.6" r="12.8"/><circle cx="1430.5" cy="658.8" r="12.8"/><circle cx="1480.9" cy="762.4" r="12.8"/><circle cx="1437.4" cy="814.9" r="12.8"/><circle cx="1460.6" cy="717" r="12.8"/><circle cx="1504.3" cy="705.8" r="12.8"/><circle cx="1431.2" cy="575.8" r="12.8"/><circle cx="1427.1" cy="916.6" r="12.8"/><circle cx="1460.3" cy="743.1" r="12.8"/><circle cx="1439.6" cy="857.7" r="12.8"/><circle cx="1483.8" cy="670.7" r="12.8"/><circle cx="1424" cy="712.9" r="12.8"/><circle cx="1493.6" cy="906.3" r="12.8"/><circle cx="1494.8" cy="861.5" r="12.8"/><circle cx="1489.1" cy="555.2" r="12.8"/><circle cx="1459.1" cy="873" r="12.8"/><circle cx="1447.3" cy="765.5" r="12.8"/><circle cx="1478.7" cy="711.4" r="12.8"/><circle cx="1466.5" cy="842.4" r="12.8"/><circle cx="1458.8" cy="919.7" r="12.8"/><circle cx="1451.9" cy="602.7" r="12.8"/><circle cx="1460.2" cy="749.2" r="12.8"/><circle cx="1479.1" cy="898.2" r="12.8"/><circle cx="1492.4" cy="783.3" r="12.8"/><circle cx="1498.8" cy="730.1" r="12.8"/><circle cx="1437.5" cy="560.3" r="12.8"/><circle cx="1448.3" cy="657.4" r="12.8"/><circle cx="1460.6" cy="782.8" r="12.8"/><circle cx="1470.6" cy="611.8" r="12.8"/><circle cx="1452.7" cy="780.2" r="12.8"/><circle cx="1440" cy="603.6" r="12.8"/><circle cx="1430.9" cy="749.1" r="12.8"/><circle cx="1450.7" cy="709.7" r="12.8"/><circle cx="1462" cy="769.5" r="12.8"/><circle cx="1504.4" cy="682" r="12.8"/><circle cx="1499.2" cy="910.1" r="12.8"/><circle cx="1495.6" cy="867" r="12.8"/><circle cx="1504.7" cy="657.7" r="12.8"/><circle cx="1503.6" cy="911.2" r="12.8"/><circle cx="1475.2" cy="683.5" r="12.8"/><circle cx="1491.1" cy="742.2" r="12.8"/><circle cx="1428.8" cy="718.8" r="12.8"/><circle cx="1479.9" cy="789.4" r="12.8"/><circle cx="1474.4" cy="654.5" r="12.8"/><circle cx="1448.5" cy="693.9" r="12.8"/><circle cx="1471.2" cy="792.7" r="12.8"/><circle cx="1502.9" cy="831.2" r="12.8"/><circle cx="1463.7" cy="743.7" r="12.8"/><circle cx="1477.5" cy="917.8" r="12.8"/><circle cx="1448.6" cy="839.7" r="12.8"/><circle cx="1452.3" cy="652.3" r="12.8"/><circle cx="1497.3" cy="679.5" r="12.8"/><circle cx="1426.1" cy="740.7" r="12.8"/><circle cx="1439.5" cy="652.9" r="12.8"/><circle cx="1480.1" cy="788.4" r="12.8"/><circle cx="1460.9" cy="620.9" r="12.8"/><circle cx="1430.9" cy="649.5" r="12.8"/><circle cx="1478.6" cy="618.6" r="12.8"/><circle cx="1454.7" cy="574.9" r="12.8"/><circle cx="1472" cy="874.4" r="12.8"/><circle cx="1458.4" cy="809.5" r="12.8"/><circle cx="1467.8" cy="891.8" r="12.8"/><circle cx="1470.7" cy="638.4" r="12.8"/><circle cx="1456.7" cy="813.5" r="12.8"/><circle cx="1433.3" cy="787.9" r="12.8"/><circle cx="1438.8" cy="704.8" r="12.8"/><circle cx="1497.7" cy="630.5" r="12.8"/><circle cx="1469.3" cy="673.9" r="12.8"/><circle cx="1433.1" cy="907.6" r="12.8"/><circle cx="1495.4" cy="913.7" r="12.8"/><circle cx="1444.8" cy="700.3" r="12.8"/><circle cx="1431.7" cy="840.9" r="12.8"/><circle cx="1467.9" cy="567" r="12.8"/><circle cx="1444.7" cy="705.4" r="12.8"/><circle cx="1464.4" cy="640.9" r="12.8"/><circle cx="1469.8" cy="873.5" r="12.8"/><circle cx="1442.6" cy="717.3" r="12.8"/><circle cx="1471.3" cy="819.5" r="12.8"/><circle cx="1433.2" cy="556.6" r="12.8"/><circle cx="1466.4" cy="885.8" r="12.8"/><circle cx="1472.6" cy="814.4" r="12.8"/><circle cx="1430.5" cy="693.8" r="12.8"/><circle cx="1457.7" cy="909.1" r="12.8"/><circle cx="1429.9" cy="668.2" r="12.8"/><circle cx="1460.3" cy="686.8" r="12.8"/><circle cx="1495.5" cy="529.3" r="12.8"/><circle cx="1469.5" cy="884.1" r="12.8"/><circle cx="1483.1" cy="898.5" r="12.8"/><circle cx="1486.6" cy="657" r="12.8"/><circle cx="1433.3" cy="908.5" r="12.8"/><circle cx="1506" cy="708.8" r="12.8"/><circle cx="1483.7" cy="722" r="12.8"/><circle cx="1432.3" cy="889.7" r="12.8"/><circle cx="1492.7" cy="833.2" r="12.8"/><circle cx="1456.3" cy="841.3" r="12.8"/><circle cx="1438" cy="771.8" r="12.8"/><circle cx="1503.5" cy="687.9" r="12.8"/><circle cx="1470.5" cy="825.6" r="12.8"/><circle cx="1488.1" cy="643.3" r="12.8"/><circle cx="1435.2" cy="661.6" r="12.8"/><circle cx="1488.2" cy="556.1" r="12.8"/><circle cx="1428.6" cy="690.5" r="12.8"/><circle cx="1443.5" cy="867.5" r="12.8"/><circle cx="1454.7" cy="668.6" r="12.8"/><circle cx="1425.1" cy="596" r="12.8"/><circle cx="1473.1" cy="801.9" r="12.8"/><circle cx="1441.5" cy="656.9" r="12.8"/><circle cx="1448.7" cy="776.2" r="12.8"/><circle cx="1482.5" cy="814.3" r="12.8"/><circle cx="1459.2" cy="787.6" r="12.8"/><circle cx="1497.6" cy="847.8" r="12.8"/><circle cx="1475.4" cy="760.9" r="12.8"/><circle cx="1496.2" cy="810.7" r="12.8"/><circle cx="1470.5" cy="661.7" r="12.8"/><circle cx="1500" cy="624.4" r="12.8"/><circle cx="1496.1" cy="763.8" r="12.8"/><circle cx="1437.7" cy="712.5" r="12.8"/><circle cx="1485.7" cy="743.7" r="12.8"/><circle cx="1452.1" cy="836.2" r="12.8"/><circle cx="1487.2" cy="937.6" r="12.8"/><circle cx="1480.3" cy="735.3" r="12.8"/><circle cx="1492.3" cy="848.4" r="12.8"/><circle cx="1434" cy="560.8" r="12.8"/><circle cx="1454.8" cy="607.7" r="12.8"/><circle cx="1485" cy="921.1" r="12.8"/><circle cx="1502.5" cy="890.9" r="12.8"/><circle cx="1483.7" cy="858.9" r="12.8"/><circle cx="1427.4" cy="667.3" r="12.8"/><circle cx="1473.9" cy="900.6" r="12.8"/><circle cx="1432.1" cy="769.1" r="12.8"/><circle cx="1469.4" cy="650.9" r="12.8"/><circle cx="1490.5" cy="618.7" r="12.8"/><circle cx="1433.2" cy="665.1" r="12.8"/><circle cx="1500.6" cy="783.7" r="12.8"/><circle cx="1479.8" cy="535.8" r="12.8"/><circle cx="1444.9" cy="791.7" r="12.8"/><circle cx="1439.8" cy="684.7" r="12.8"/><circle cx="1460.9" cy="831" r="12.8"/><circle cx="1493.4" cy="576.6" r="12.8"/><circle cx="1472.1" cy="712.1" r="12.8"/><circle cx="1433.2" cy="780.6" r="12.8"/><circle cx="1425.5" cy="629.2" r="12.8"/><circle cx="1433" cy="715.8" r="12.8"/><circle cx="1490.3" cy="684.5" r="12.8"/><circle cx="1439.2" cy="685.1" r="12.8"/><circle cx="1469.8" cy="699.9" r="12.8"/><circle cx="1447.9" cy="858.5" r="12.8"/><circle cx="1480.8" cy="701.7" r="12.8"/><circle cx="1455.4" cy="807.7" r="12.8"/><circle cx="1435.8" cy="531.4" r="12.8"/><circle cx="1496.5" cy="720.3" r="12.8"/><circle cx="1468.5" cy="715.4" r="12.8"/><circle cx="1481" cy="730.7" r="12.8"/><circle cx="1490.9" cy="540.1" r="12.8"/><circle cx="1502.5" cy="781.4" r="12.8"/><circle cx="1424.9" cy="592.1" r="12.8"/><circle cx="1452.2" cy="704" r="12.8"/><circle cx="1436.3" cy="620.8" r="12.8"/><circle cx="1465.4" cy="748.4" r="12.8"/><circle cx="1496.3" cy="603" r="12.8"/><circle cx="1490.2" cy="834.5" r="12.8"/><circle cx="1426.7" cy="642.6" r="12.8"/><circle cx="1438.9" cy="899.5" r="12.8"/><circle cx="1491.7" cy="736.6" r="12.8"/><circle cx="1480.2" cy="888.9" r="12.8"/><circle cx="1456.4" cy="877.1" r="12.8"/><circle cx="1463.3" cy="841.7" r="12.8"/><circle cx="1436.9" cy="826.7" r="12.8"/><circle cx="1493.9" cy="715.3" r="12.8"/><circle cx="1456.5" cy="843.7" r="12.8"/><circle cx="1496.3" cy="650.9" r="12.8"/><circle cx="1474.5" cy="746.9" r="12.8"/><circle cx="1430.1" cy="609.7" r="12.8"/><circle cx="1451.1" cy="807.4" r="12.8"/><circle cx="1441.8" cy="561.1" r="12.8"/><circle cx="1498" cy="816.5" r="12.8"/><circle cx="1472.7" cy="846.6" r="12.8"/><circle cx="1427.4" cy="770.1" r="12.8"/><circle cx="1437.9" cy="776.8" r="12.8"/><circle cx="1453.8" cy="719.1" r="12.8"/><circle cx="1462.6" cy="721.2" r="12.8"/><circle cx="1471.7" cy="726.9" r="12.8"/><circle cx="1456" cy="547.1" r="12.8"/><circle cx="1453.2" cy="738.7" r="12.8"/><circle cx="1424.3" cy="819.3" r="12.8"/><circle cx="1471.9" cy="730.7" r="12.8"/><circle cx="1451.5" cy="734.6" r="12.8"/><circle cx="1425.5" cy="611.9" r="12.8"/><circle cx="1461.9" cy="592.9" r="12.8"/><circle cx="1505.7" cy="744.5" r="12.8"/><circle cx="1427.6" cy="779.6" r="12.8"/><circle cx="1435.9" cy="809.3" r="12.8"/><circle cx="1479.5" cy="745.6" r="12.8"/><circle cx="1446.4" cy="742.9" r="12.8"/><circle cx="1446.5" cy="903.6" r="12.8"/><circle cx="1465.3" cy="855.5" r="12.8"/><circle cx="1445.6" cy="809.3" r="12.8"/><circle cx="1471" cy="641.5" r="12.8"/><circle cx="1467.6" cy="740.5" r="12.8"/><circle cx="1503.2" cy="882.7" r="12.8"/><circle cx="1506.2" cy="828.4" r="12.8"/><circle cx="1426.6" cy="577.9" r="12.8"/><circle cx="1470.3" cy="816.7" r="12.8"/><circle cx="1487.8" cy="872.8" r="12.8"/><circle cx="1496.2" cy="837.6" r="12.8"/><circle cx="1488.1" cy="743.4" r="12.8"/><circle cx="1476.3" cy="646.8" r="12.8"/><circle cx="1476.5" cy="743.8" r="12.8"/><circle cx="1453.9" cy="557.7" r="12.8"/><circle cx="1447.2" cy="628.4" r="12.8"/><circle cx="1489.8" cy="793.4" r="12.8"/><circle cx="1496.2" cy="631.3" r="12.8"/><circle cx="1501.7" cy="606" r="12.8"/><circle cx="1480.4" cy="779.9" r="12.8"/><circle cx="1449" cy="862.1" r="12.8"/><circle cx="1487.2" cy="764.4" r="12.8"/><circle cx="1485.2" cy="600.5" r="12.8"/><circle cx="1466" cy="777.9" r="12.8"/><circle cx="1476.5" cy="831.8" r="12.8"/><circle cx="1452.9" cy="937.1" r="12.8"/><circle cx="1469.5" cy="701.3" r="12.8"/><circle cx="1457.5" cy="725.7" r="12.8"/><circle cx="1428.8" cy="812.5" r="12.8"/><circle cx="1451.8" cy="839.8" r="12.8"/><circle cx="1450.6" cy="781.5" r="12.8"/><circle cx="1505.8" cy="766.2" r="12.8"/><circle cx="1463.8" cy="684.5" r="12.8"/><circle cx="1454.3" cy="555.6" r="12.8"/><circle cx="1444" cy="773.9" r="12.8"/><circle cx="1443.3" cy="746.4" r="12.8"/><circle cx="1452.8" cy="613.7" r="12.8"/><circle cx="1435.1" cy="784.5" r="12.8"/><circle cx="1424.4" cy="526.9" r="12.8"/><circle cx="1496.1" cy="600.9" r="12.8"/><circle cx="1461.4" cy="654.1" r="12.8"/><circle cx="1460.8" cy="766.7" r="12.8"/><circle cx="1471" cy="777" r="12.8"/><circle cx="1448.9" cy="616.4" r="12.8"/><circle cx="1437.8" cy="660.6" r="12.8"/><circle cx="1429.3" cy="596.1" r="12.8"/><circle cx="1448.8" cy="862.3" r="12.8"/><circle cx="1449.4" cy="713.8" r="12.8"/><circle cx="1484.1" cy="536.1" r="12.8"/><circle cx="1469.6" cy="759.9" r="12.8"/><circle cx="1501.6" cy="782.9" r="12.8"/><circle cx="1452.1" cy="896.2" r="12.8"/><circle cx="1500.3" cy="663.4" r="12.8"/><circle cx="1472.2" cy="563" r="12.8"/><circle cx="1430.4" cy="714.7" r="12.8"/><circle cx="1438.6" cy="573.3" r="12.8"/><circle cx="1472" cy="537.1" r="12.8"/><circle cx="1505.8" cy="897.6" r="12.8"/><circle cx="1453.4" cy="644.1" r="12.8"/><circle cx="1488.1" cy="744.1" r="12.8"/><circle cx="1459.3" cy="836.7" r="12.8"/><circle cx="1495.9" cy="683.8" r="12.8"/><circle cx="1429.4" cy="567.4" r="12.8"/><circle cx="1464" cy="826.2" r="12.8"/><circle cx="1498.4" cy="531.3" r="12.8"/><circle cx="1446.7" cy="813" r="12.8"/><circle cx="1445.2" cy="812" r="12.8"/><circle cx="1425.7" cy="653.6" r="12.8"/><circle cx="1437.5" cy="656.5" r="12.8"/><circle cx="1446" cy="693.2" r="12.8"/><circle cx="1482.3" cy="797.3" r="12.8"/><circle cx="1441.9" cy="801.8" r="12.8"/><circle cx="1457" cy="756.9" r="12.8"/><circle cx="1440.4" cy="828" r="12.8"/><circle cx="1473.8" cy="669.1" r="12.8"/><circle cx="1495.5" cy="914.7" r="12.8"/><circle cx="1477.6" cy="865.5" r="12.8"/><circle cx="1440.1" cy="666.7" r="12.8"/><circle cx="1484.7" cy="813.4" r="12.8"/><circle cx="1503.7" cy="812.8" r="12.8"/><circle cx="1473.7" cy="865.8" r="12.8"/><circle cx="1430.4" cy="659.4" r="12.8"/><circle cx="1491" cy="778.2" r="12.8"/><circle cx="1496.5" cy="788.5" r="12.8"/><circle cx="1452.1" cy="734.3" r="12.8"/><circle cx="1435.1" cy="798.4" r="12.8"/><circle cx="1439.4" cy="724.2" r="12.8"/><circle cx="1468.4" cy="761.8" r="12.8"/><circle cx="1496.5" cy="649.1" r="12.8"/><circle cx="1476.9" cy="585.4" r="12.8"/><circle cx="1500.4" cy="619.5" r="12.8"/><circle cx="1441.4" cy="602.4" r="12.8"/><circle cx="1450.9" cy="695.6" r="12.8"/><circle cx="1486" cy="551.5" r="12.8"/><circle cx="1477.7" cy="796.1" r="12.8"/><circle cx="1457.4" cy="798.2" r="12.8"/><circle cx="1480.2" cy="578.1" r="12.8"/><circle cx="1451.8" cy="702.3" r="12.8"/><circle cx="1428.6" cy="840.4" r="12.8"/><circle cx="1458.2" cy="578.4" r="12.8"/><circle cx="1427.6" cy="883.4" r="12.8"/><circle cx="1475.8" cy="601.7" r="12.8"/><circle cx="1451.6" cy="603.5" r="12.8"/><circle cx="1464.8" cy="851.3" r="12.8"/><circle cx="1473.4" cy="779.3" r="12.8"/><circle cx="1445.1" cy="778.8" r="12.8"/><circle cx="1462.3" cy="597.6" r="12.8"/><circle cx="1424.9" cy="816.7" r="12.8"/><circle cx="1500.6" cy="687.9" r="12.8"/><circle cx="1470.6" cy="544.8" r="12.8"/><circle cx="1505.8" cy="675.2" r="12.8"/><circle cx="1428.4" cy="702.8" r="12.8"/><circle cx="1474.8" cy="914" r="12.8"/><circle cx="1483.9" cy="853.1" r="12.8"/><circle cx="1451.1" cy="553.9" r="12.8"/><circle cx="1431.6" cy="724.3" r="12.8"/><circle cx="1436.8" cy="697.2" r="12.8"/><circle cx="1435.6" cy="752.7" r="12.8"/><circle cx="1487.5" cy="856.6" r="12.8"/><circle cx="1431.3" cy="839.7" r="12.8"/><circle cx="1491.4" cy="525.7" r="12.8"/><circle cx="1458.9" cy="819.5" r="12.8"/><circle cx="1468.5" cy="529" r="12.8"/><circle cx="1472.6" cy="740.3" r="12.8"/><circle cx="1469.9" cy="638" r="12.8"/><circle cx="1478.4" cy="697.3" r="12.8"/><circle cx="1473.7" cy="667.4" r="12.8"/><circle cx="1451.3" cy="674.7" r="12.8"/><circle cx="1485.3" cy="799" r="12.8"/><circle cx="1445.2" cy="603.1" r="12.8"/><circle cx="1482.8" cy="587.3" r="12.8"/><circle cx="1487.2" cy="798.3" r="12.8"/><circle cx="1488.2" cy="777.9" r="12.8"/><circle cx="1449.5" cy="713.9" r="12.8"/><circle cx="1487.9" cy="869.6" r="12.8"/><circle cx="1504.9" cy="868.5" r="12.8"/><circle cx="1461.4" cy="645.8" r="12.8"/><circle cx="1446.9" cy="876" r="12.8"/><circle cx="1467.2" cy="707.4" r="12.8"/><circle cx="1501.9" cy="657" r="12.8"/><circle cx="1434.7" cy="751.3" r="12.8"/><circle cx="1424.6" cy="816.1" r="12.8"/><circle cx="1463.3" cy="696.8" r="12.8"/><circle cx="1478.2" cy="625.3" r="12.8"/><circle cx="1488.1" cy="787.2" r="12.8"/><circle cx="1453.9" cy="630.9" r="12.8"/><circle cx="1505.9" cy="823.1" r="12.8"/><circle cx="1442.7" cy="611" r="12.8"/><circle cx="1486.6" cy="867.7" r="12.8"/><circle cx="1431.3" cy="640.8" r="12.8"/><circle cx="1426.1" cy="800.3" r="12.8"/><circle cx="1434.9" cy="624.7" r="12.8"/><circle cx="1428.8" cy="661.8" r="12.8"/><circle cx="1465.5" cy="748.7" r="12.8"/><circle cx="1469.9" cy="690.7" r="12.8"/><circle cx="1438.9" cy="923.2" r="12.8"/><circle cx="1501.8" cy="599.5" r="12.8"/><circle cx="1454.1" cy="598.9" r="12.8"/><circle cx="1436.2" cy="931.3" r="12.8"/><circle cx="1438.5" cy="808.9" r="12.8"/><circle cx="1485" cy="642.1" r="12.8"/><circle cx="1500.3" cy="601.7" r="12.8"/><circle cx="1437.3" cy="709.5" r="12.8"/><circle cx="1426.2" cy="713.3" r="12.8"/><circle cx="1488.4" cy="797" r="12.8"/><circle cx="1443.9" cy="779" r="12.8"/><circle cx="1505.3" cy="619.1" r="12.8"/><circle cx="1465.2" cy="715.2" r="12.8"/><circle cx="1476.6" cy="878.9" r="12.8"/><circle cx="1452.4" cy="763.2" r="12.8"/><circle cx="1490.2" cy="719.7" r="12.8"/><circle cx="1462" cy="806.4" r="12.8"/><circle cx="1450.7" cy="823.2" r="12.8"/><circle cx="1498.8" cy="853.2" r="12.8"/><circle cx="1432.7" cy="782" r="12.8"/><circle cx="1484.7" cy="686.1" r="12.8"/><circle cx="1429.2" cy="596.9" r="12.8"/><circle cx="1477.4" cy="826.2" r="12.8"/><circle cx="1457.2" cy="777.8" r="12.8"/><circle cx="1495.5" cy="720" r="12.8"/><circle cx="1428.8" cy="775.9" r="12.8"/><circle cx="1470.6" cy="791.4" r="12.8"/><circle cx="1457.8" cy="637.2" r="12.8"/><circle cx="1500.1" cy="823.9" r="12.8"/><circle cx="1502.2" cy="739.5" r="12.8"/><circle cx="1475.9" cy="559" r="12.8"/><circle cx="1442.4" cy="627.3" r="12.8"/><circle cx="1444.7" cy="898" r="12.8"/><circle cx="1445.6" cy="599.1" r="12.8"/><circle cx="1459.8" cy="754.2" r="12.8"/><circle cx="1443" cy="746.1" r="12.8"/><circle cx="1440.7" cy="844" r="12.8"/><circle cx="1486.8" cy="716.4" r="12.8"/><circle cx="1477.1" cy="648.2" r="12.8"/><circle cx="1448.6" cy="711.3" r="12.8"/><circle cx="1506.3" cy="610.5" r="12.8"/><circle cx="1441.8" cy="698.6" r="12.8"/><circle cx="1471.1" cy="671.9" r="12.8"/><circle cx="1436.8" cy="537.9" r="12.8"/><circle cx="1495.4" cy="719.2" r="12.8"/><circle cx="1495.9" cy="697.8" r="12.8"/><circle cx="1446" cy="654.2" r="12.8"/><circle cx="1486.2" cy="897" r="12.8"/><circle cx="1492.1" cy="651.3" r="12.8"/><circle cx="1447.3" cy="710.7" r="12.8"/><circle cx="1451.3" cy="613.3" r="12.8"/><circle cx="1464.1" cy="836.1" r="12.8"/><circle cx="1497.8" cy="734.1" r="12.8"/><circle cx="1437.2" cy="654.5" r="12.8"/><circle cx="1480.5" cy="699.1" r="12.8"/><circle cx="1473.4" cy="840.3" r="12.8"/><circle cx="1461.4" cy="732.8" r="12.8"/><circle cx="1471.9" cy="755.6" r="12.8"/><circle cx="1497.1" cy="845.9" r="12.8"/><circle cx="1441.2" cy="852.8" r="12.8"/><circle cx="1497.1" cy="705.8" r="12.8"/><circle cx="1453.7" cy="720.7" r="12.8"/><circle cx="1488.5" cy="527.2" r="12.8"/><circle cx="1495.5" cy="674.7" r="12.8"/><circle cx="1438.9" cy="682" r="12.8"/><circle cx="1495.5" cy="722.1" r="12.8"/><circle cx="1506.4" cy="786.9" r="12.8"/><circle cx="1448.5" cy="891.4" r="12.8"/><circle cx="1425.8" cy="573.3" r="12.8"/><circle cx="1433.1" cy="878.3" r="12.8"/><circle cx="1504.7" cy="618.3" r="12.8"/><circle cx="1424.6" cy="778.5" r="12.8"/><circle cx="1499.5" cy="536.5" r="12.8"/><circle cx="1436.3" cy="785.8" r="12.8"/><circle cx="1484.9" cy="598.6" r="12.8"/><circle cx="1431.9" cy="657.3" r="12.8"/><circle cx="1437.8" cy="696.7" r="12.8"/><circle cx="1480.5" cy="877.3" r="12.8"/><circle cx="1431.3" cy="631.4" r="12.8"/><circle cx="1452" cy="772.3" r="12.8"/><circle cx="1500" cy="789.4" r="12.8"/><circle cx="1483.3" cy="828.3" r="12.8"/><circle cx="1497" cy="643.2" r="12.8"/><circle cx="1505.1" cy="751.2" r="12.8"/><circle cx="1426.5" cy="725.4" r="12.8"/><circle cx="1443.3" cy="757.8" r="12.8"/><circle cx="1489.5" cy="656.6" r="12.8"/><circle cx="1481" cy="739.6" r="12.8"/><circle cx="1426.9" cy="732.6" r="12.8"/><circle cx="1465.7" cy="740" r="12.8"/><circle cx="1443" cy="753.4" r="12.8"/><circle cx="1459.5" cy="531.3" r="12.8"/><circle cx="1432.5" cy="733.1" r="12.8"/><circle cx="1425.5" cy="788.3" r="12.8"/><circle cx="1506" cy="705.9" r="12.8"/><circle cx="1450.1" cy="910.6" r="12.8"/><circle cx="1496.7" cy="780.1" r="12.8"/><circle cx="1433.8" cy="552.1" r="12.8"/><circle cx="1464.3" cy="793.4" r="12.8"/><circle cx="1435.1" cy="691.5" r="12.8"/><circle cx="1459.4" cy="745" r="12.8"/><circle cx="1438.7" cy="873.5" r="12.8"/><circle cx="1480.7" cy="804.1" r="12.8"/><circle cx="1436.1" cy="694.4" r="12.8"/><circle cx="1485.1" cy="703" r="12.8"/><circle cx="1465.4" cy="749.3" r="12.8"/><circle cx="1433.1" cy="647.9" r="12.8"/><circle cx="1453.1" cy="720.1" r="12.8"/><circle cx="1465" cy="842.8" r="12.8"/><circle cx="1500.1" cy="842.9" r="12.8"/><circle cx="1452.8" cy="742.8" r="12.8"/><circle cx="1441.7" cy="744.5" r="12.8"/><circle cx="1504.1" cy="785.3" r="12.8"/><circle cx="1497.1" cy="690.8" r="12.8"/><circle cx="1484.5" cy="681.1" r="12.8"/><circle cx="1446.5" cy="780.3" r="12.8"/><circle cx="1438.5" cy="561.2" r="12.8"/><circle cx="1445.8" cy="868" r="12.8"/><circle cx="1429.5" cy="567.8" r="12.8"/><circle cx="1427.4" cy="530.7" r="12.8"/><circle cx="1466" cy="886.1" r="12.8"/><circle cx="1457.7" cy="786.3" r="12.8"/><circle cx="1470" cy="880.1" r="12.8"/><circle cx="1453.9" cy="775.1" r="12.8"/><circle cx="1424.7" cy="798.1" r="12.8"/><circle cx="1480.9" cy="792.7" r="12.8"/><circle cx="1478" cy="789" r="12.8"/><circle cx="1468.9" cy="818.6" r="12.8"/><circle cx="1469.4" cy="635.5" r="12.8"/><circle cx="1481.1" cy="823.4" r="12.8"/><circle cx="1505.3" cy="785.9" r="12.8"/><circle cx="1496.3" cy="841.3" r="12.8"/><circle cx="1483.4" cy="759.8" r="12.8"/><circle cx="1456.9" cy="681.9" r="12.8"/><circle cx="1450.2" cy="686.9" r="12.8"/><circle cx="1458.6" cy="782.4" r="12.8"/><circle cx="1504.6" cy="571.1" r="12.8"/><circle cx="1455.9" cy="559.6" r="12.8"/><circle cx="1455.8" cy="836.1" r="12.8"/><circle cx="1457.8" cy="884.9" r="12.8"/><circle cx="1435.7" cy="538.9" r="12.8"/><circle cx="1506.7" cy="768.4" r="12.8"/><circle cx="1424.2" cy="928" r="12.8"/><circle cx="1474.2" cy="716.6" r="12.8"/><circle cx="1500.7" cy="781.7" r="12.8"/><circle cx="1444.9" cy="622.5" r="12.8"/><circle cx="1474.5" cy="530.2" r="12.8"/><circle cx="1455.1" cy="609.5" r="12.8"/><circle cx="1443.8" cy="591.4" r="12.8"/><circle cx="1440.3" cy="612.5" r="12.8"/><circle cx="1433.4" cy="804.7" r="12.8"/><circle cx="1493.8" cy="808.7" r="12.8"/><circle cx="1488.9" cy="568.3" r="12.8"/><circle cx="1499.2" cy="803.4" r="12.8"/><circle cx="1427.9" cy="807.6" r="12.8"/><circle cx="1481.4" cy="778.2" r="12.8"/><circle cx="1450.7" cy="731.4" r="12.8"/><circle cx="1477.4" cy="665.5" r="12.8"/><circle cx="1469.4" cy="803.5" r="12.8"/><circle cx="1450" cy="539.2" r="12.8"/><circle cx="1504.4" cy="838.6" r="12.8"/><circle cx="1423.9" cy="685.2" r="12.8"/><circle cx="1485.7" cy="630.4" r="12.8"/><circle cx="1494.6" cy="738.6" r="12.8"/><circle cx="1466.1" cy="703.1" r="12.8"/><circle cx="1473" cy="725.2" r="12.8"/><circle cx="1506.4" cy="620.3" r="12.8"/><circle cx="1443.3" cy="702.1" r="12.8"/><circle cx="1476" cy="777.9" r="12.8"/><circle cx="1485.5" cy="709.3" r="12.8"/><circle cx="1455.2" cy="900.3" r="12.8"/><circle cx="1482.9" cy="760.8" r="12.8"/><circle cx="1456.5" cy="575.5" r="12.8"/><circle cx="1467.5" cy="800.3" r="12.8"/><circle cx="1474.7" cy="692.1" r="12.8"/><circle cx="1480" cy="925.3" r="12.8"/><circle cx="1450.5" cy="769.8" r="12.8"/><circle cx="1476" cy="722.4" r="12.8"/><circle cx="1468.9" cy="706.2" r="12.8"/><circle cx="1442.3" cy="770.4" r="12.8"/><circle cx="1474.6" cy="834.8" r="12.8"/><circle cx="1445.8" cy="525.8" r="12.8"/><circle cx="1499.2" cy="720.1" r="12.8"/><circle cx="1463.1" cy="838.4" r="12.8"/><circle cx="1483.7" cy="562.3" r="12.8"/><circle cx="1467.1" cy="837.4" r="12.8"/><circle cx="1463.4" cy="761.8" r="12.8"/><circle cx="1442.2" cy="853.3" r="12.8"/><circle cx="1435.6" cy="794.4" r="12.8"/><circle cx="1500.8" cy="696.6" r="12.8"/><circle cx="1467.7" cy="757.3" r="12.8"/><circle cx="1467.3" cy="644.3" r="12.8"/><circle cx="1467.6" cy="891.7" r="12.8"/><circle cx="1491.3" cy="772.2" r="12.8"/><circle cx="1443.6" cy="732.7" r="12.8"/><circle cx="1438.1" cy="665.3" r="12.8"/><circle cx="1492" cy="829" r="12.8"/><circle cx="1462" cy="591.3" r="12.8"/><circle cx="1477" cy="821.7" r="12.8"/><circle cx="1492.5" cy="764.4" r="12.8"/><circle cx="1498" cy="868" r="12.8"/><circle cx="1495.8" cy="736.1" r="12.8"/><circle cx="1427.4" cy="639.7" r="12.8"/><circle cx="1455.4" cy="636.2" r="12.8"/><circle cx="1492.9" cy="702.1" r="12.8"/><circle cx="1491.7" cy="714" r="12.8"/><circle cx="1434" cy="621.5" r="12.8"/><circle cx="1436.6" cy="944.9" r="12.8"/><circle cx="1444.7" cy="601.1" r="12.8"/><circle cx="1432.3" cy="827.7" r="12.8"/><circle cx="1453.4" cy="768.8" r="12.8"/><circle cx="1490.5" cy="747.5" r="12.8"/><circle cx="1467.1" cy="556.5" r="12.8"/><circle cx="1461.4" cy="859" r="12.8"/><circle cx="1431.1" cy="760.8" r="12.8"/><circle cx="1456.6" cy="824.9" r="12.8"/><circle cx="1506.5" cy="901.3" r="12.8"/><circle cx="1481.5" cy="840.5" r="12.8"/><circle cx="1461.1" cy="664.5" r="12.8"/><circle cx="1463.5" cy="643.7" r="12.8"/><circle cx="1490.1" cy="588.6" r="12.8"/><circle cx="1486.8" cy="758.4" r="12.8"/><circle cx="1436.2" cy="731.4" r="12.8"/><circle cx="1480.3" cy="879.6" r="12.8"/><circle cx="1454.3" cy="768.9" r="12.8"/><circle cx="1467" cy="608.5" r="12.8"/><circle cx="1443.5" cy="666.1" r="12.8"/><circle cx="1454.6" cy="781.5" r="12.8"/><circle cx="1452" cy="789.9" r="12.8"/><circle cx="1455.4" cy="727.7" r="12.8"/><circle cx="1425.3" cy="915.5" r="12.8"/><circle cx="1440.5" cy="652.5" r="12.8"/><circle cx="1471.2" cy="664.9" r="12.8"/><circle cx="1428.6" cy="877.4" r="12.8"/><circle cx="1438.6" cy="846.5" r="12.8"/><circle cx="1483.4" cy="827.2" r="12.8"/><circle cx="1446.6" cy="783.5" r="12.8"/><circle cx="1450.7" cy="571.6" r="12.8"/><circle cx="1443.9" cy="816.4" r="12.8"/><circle cx="1493" cy="791.8" r="12.8"/><circle cx="1431.4" cy="768.3" r="12.8"/><circle cx="1476.6" cy="600.8" r="12.8"/><circle cx="1495.1" cy="665.6" r="12.8"/><circle cx="1440.5" cy="736.7" r="12.8"/><circle cx="1458.9" cy="658.6" r="12.8"/><circle cx="1489.6" cy="791.5" r="12.8"/><circle cx="1475.1" cy="803.7" r="12.8"/><circle cx="1454.6" cy="558.4" r="12.8"/><circle cx="1427.4" cy="652.4" r="12.8"/><circle cx="1460.5" cy="859.4" r="12.8"/><circle cx="1454.3" cy="617.9" r="12.8"/><circle cx="1482.9" cy="596.4" r="12.8"/><circle cx="1448.3" cy="849.1" r="12.8"/><circle cx="1457.7" cy="728.8" r="12.8"/><circle cx="1477.6" cy="841" r="12.8"/><circle cx="1491.1" cy="777.6" r="12.8"/><circle cx="1453" cy="652.6" r="12.8"/><circle cx="1455.8" cy="803.1" r="12.8"/><circle cx="1471.8" cy="620.4" r="12.8"/><circle cx="1500.6" cy="668.9" r="12.8"/><circle cx="1439.7" cy="624.8" r="12.8"/><circle cx="1504.4" cy="847.8" r="12.8"/><circle cx="1482.9" cy="631" r="12.8"/><circle cx="1454.7" cy="687.4" r="12.8"/><circle cx="1479" cy="605.5" r="12.8"/><circle cx="1451.1" cy="572.4" r="12.8"/><circle cx="1429.7" cy="788.7" r="12.8"/><circle cx="1486.6" cy="735.8" r="12.8"/><circle cx="1455.3" cy="665.7" r="12.8"/><circle cx="1467.4" cy="702.5" r="12.8"/><circle cx="1465" cy="946.4" r="12.8"/><circle cx="1498.6" cy="596.8" r="12.8"/><circle cx="1486.6" cy="872.6" r="12.8"/><circle cx="1425.9" cy="806.8" r="12.8"/><circle cx="1473" cy="925.5" r="12.8"/><circle cx="1462.2" cy="834.8" r="12.8"/><circle cx="1462.2" cy="617.5" r="12.8"/><circle cx="1493.5" cy="845" r="12.8"/><circle cx="1458.2" cy="637.9" r="12.8"/><circle cx="1463.1" cy="880.7" r="12.8"/><circle cx="1497.7" cy="761.6" r="12.8"/><circle cx="1460.3" cy="636.3" r="12.8"/><circle cx="1464.6" cy="801.7" r="12.8"/><circle cx="1466.3" cy="585.6" r="12.8"/><circle cx="1492.2" cy="772" r="12.8"/><circle cx="1479.4" cy="671.7" r="12.8"/><circle cx="1485.3" cy="773.2" r="12.8"/><circle cx="1457.1" cy="837.1" r="12.8"/><circle cx="1427.2" cy="644.6" r="12.8"/><circle cx="1480.2" cy="808.9" r="12.8"/><circle cx="1469.8" cy="805.6" r="12.8"/><circle cx="1487.6" cy="835.8" r="12.8"/><circle cx="1487.7" cy="849.4" r="12.8"/><circle cx="1433.6" cy="739.5" r="12.8"/><circle cx="1442.1" cy="880" r="12.8"/><circle cx="1430.2" cy="861.8" r="12.8"/><circle cx="1491.7" cy="638.3" r="12.8"/><circle cx="1432.2" cy="702.7" r="12.8"/><circle cx="1431.1" cy="704.1" r="12.8"/><circle cx="1486.3" cy="529" r="12.8"/><circle cx="1470.6" cy="727" r="12.8"/><circle cx="1428.4" cy="609.2" r="12.8"/><circle cx="1480.3" cy="839.4" r="12.8"/><circle cx="1482.8" cy="688.2" r="12.8"/><circle cx="1463.9" cy="708.3" r="12.8"/><circle cx="1428.3" cy="575.4" r="12.8"/><circle cx="1481.2" cy="907" r="12.8"/><circle cx="1458.5" cy="746" r="12.8"/><circle cx="1472.3" cy="752.5" r="12.8"/><circle cx="1506.6" cy="915.7" r="12.8"/><circle cx="1491.6" cy="636.6" r="12.8"/><circle cx="1496.2" cy="663.3" r="12.8"/><circle cx="1435.9" cy="552.6" r="12.8"/><circle cx="1451.5" cy="797.7" r="12.8"/><circle cx="1466.8" cy="542.1" r="12.8"/><circle cx="1424.3" cy="763" r="12.8"/><circle cx="1505.9" cy="799.6" r="12.8"/><circle cx="1446.6" cy="861.2" r="12.8"/><circle cx="1445.6" cy="563.6" r="12.8"/><circle cx="1449.8" cy="741" r="12.8"/><circle cx="1445" cy="673.6" r="12.8"/><circle cx="1495.1" cy="714.6" r="12.8"/><circle cx="1469.9" cy="768.4" r="12.8"/><circle cx="1466.2" cy="621.1" r="12.8"/><circle cx="1458.7" cy="813.7" r="12.8"/><circle cx="1428" cy="842.4" r="12.8"/><circle cx="1449.1" cy="709.9" r="12.8"/><circle cx="1495.7" cy="848" r="12.8"/><circle cx="1490.4" cy="712.4" r="12.8"/><circle cx="1494.9" cy="823.8" r="12.8"/><circle cx="1445.1" cy="659.8" r="12.8"/><circle cx="1440.6" cy="724.5" r="12.8"/><circle cx="1428.1" cy="834.4" r="12.8"/><circle cx="1468.4" cy="838.3" r="12.8"/><circle cx="1454.8" cy="570" r="12.8"/><circle cx="1462.3" cy="909.4" r="12.8"/><circle cx="1464.4" cy="662.9" r="12.8"/><circle cx="1472.3" cy="778.9" r="12.8"/><circle cx="1454.2" cy="750.6" r="12.8"/><circle cx="1490.3" cy="723" r="12.8"/><circle cx="1440.4" cy="544.6" r="12.8"/><circle cx="1500.1" cy="918.3" r="12.8"/><circle cx="1470" cy="895.1" r="12.8"/><circle cx="1428" cy="836.4" r="12.8"/><circle cx="1449.9" cy="867.5" r="12.8"/><circle cx="1468" cy="781.8" r="12.8"/><circle cx="1457.7" cy="791.8" r="12.8"/><circle cx="1470.7" cy="754.4" r="12.8"/><circle cx="1450.7" cy="775.8" r="12.8"/><circle cx="1446.5" cy="747.9" r="12.8"/><circle cx="1489.9" cy="903.8" r="12.8"/><circle cx="1448" cy="683.1" r="12.8"/><circle cx="1482.8" cy="609.1" r="12.8"/><circle cx="1490.4" cy="908" r="12.8"/><circle cx="1472.9" cy="670" r="12.8"/><circle cx="1461.5" cy="751.6" r="12.8"/><circle cx="1501.4" cy="609.6" r="12.8"/><circle cx="1460.7" cy="678.9" r="12.8"/><circle cx="1496.7" cy="676.7" r="12.8"/><circle cx="1428.6" cy="591" r="12.8"/><circle cx="1459.8" cy="848.1" r="12.8"/><circle cx="1476.9" cy="762.2" r="12.8"/><circle cx="1427.9" cy="644.2" r="12.8"/><circle cx="1495.4" cy="731" r="12.8"/><circle cx="1429.8" cy="774" r="12.8"/><circle cx="1473.3" cy="684.7" r="12.8"/><circle cx="1438.8" cy="653" r="12.8"/><circle cx="1500.4" cy="708.1" r="12.8"/><circle cx="1470.4" cy="536.9" r="12.8"/><circle cx="1490.3" cy="856.7" r="12.8"/><circle cx="1465.2" cy="758" r="12.8"/><circle cx="1479.7" cy="676.5" r="12.8"/><circle cx="1479.8" cy="680.3" r="12.8"/><circle cx="1448.3" cy="625.6" r="12.8"/><circle cx="1441.3" cy="861.9" r="12.8"/><circle cx="1493.4" cy="575.9" r="12.8"/><circle cx="1435.9" cy="725.2" r="12.8"/><circle cx="1500" cy="602.7" r="12.8"/><circle cx="1441" cy="910.2" r="12.8"/><circle cx="1432.2" cy="624.8" r="12.8"/><circle cx="1431.7" cy="698.2" r="12.8"/><circle cx="1488.9" cy="774.3" r="12.8"/><circle cx="1502.7" cy="841" r="12.8"/><circle cx="1458.2" cy="811.2" r="12.8"/><circle cx="1478.5" cy="818" r="12.8"/><circle cx="1445.2" cy="827.2" r="12.8"/><circle cx="1499" cy="882.6" r="12.8"/><circle cx="1480.7" cy="860.5" r="12.8"/><circle cx="1436.7" cy="820.1" r="12.8"/><circle cx="1428.5" cy="742.5" r="12.8"/><circle cx="1481.5" cy="761.9" r="12.8"/><circle cx="1427.3" cy="826.4" r="12.8"/><circle cx="1493.2" cy="771.9" r="12.8"/><circle cx="1448.2" cy="729" r="12.8"/><circle cx="1443.1" cy="805.8" r="12.8"/><circle cx="1472.1" cy="710.1" r="12.8"/><circle cx="1450.3" cy="708.8" r="12.8"/><circle cx="1470.3" cy="828.3" r="12.8"/><circle cx="1436.6" cy="741.9" r="12.8"/><circle cx="1499.5" cy="636.8" r="12.8"/><circle cx="1450.7" cy="620.1" r="12.8"/><circle cx="1493.6" cy="764.6" r="12.8"/><circle cx="1436.4" cy="885.8" r="12.8"/><circle cx="1490.1" cy="849.3" r="12.8"/><circle cx="1505.1" cy="909.7" r="12.8"/><circle cx="1456.3" cy="721.4" r="12.8"/><circle cx="1426.5" cy="535.5" r="12.8"/><circle cx="1455.3" cy="760" r="12.8"/><circle cx="1477" cy="886.3" r="12.8"/><circle cx="1442.3" cy="753.5" r="12.8"/><circle cx="1469.1" cy="747" r="12.8"/><circle cx="1431.6" cy="793.9" r="12.8"/><circle cx="1462.3" cy="700.1" r="12.8"/><circle cx="1484.2" cy="698.4" r="12.8"/><circle cx="1459.5" cy="792" r="12.8"/><circle cx="1480.1" cy="596.9" r="12.8"/><circle cx="1433.3" cy="714.1" r="12.8"/><circle cx="1492.6" cy="763.4" r="12.8"/><circle cx="1433.9" cy="914" r="12.8"/><circle cx="1500.4" cy="725.1" r="12.8"/><circle cx="1506.5" cy="943.8" r="12.8"/><circle cx="1501.8" cy="751.3" r="12.8"/><circle cx="1467.5" cy="631.8" r="12.8"/><circle cx="1447.9" cy="926.3" r="12.8"/><circle cx="1452.7" cy="745.6" r="12.8"/><circle cx="1486.1" cy="872.2" r="12.8"/><circle cx="1465" cy="840.5" r="12.8"/><circle cx="1501" cy="868.9" r="12.8"/><circle cx="1431.5" cy="625.8" r="12.8"/><circle cx="1464" cy="746" r="12.8"/><circle cx="1495.5" cy="638.7" r="12.8"/><circle cx="1473.4" cy="778.1" r="12.8"/><circle cx="1468.7" cy="699.5" r="12.8"/><circle cx="1431.1" cy="779.5" r="12.8"/><circle cx="1435.4" cy="717.3" r="12.8"/><circle cx="1446.3" cy="683.2" r="12.8"/><circle cx="1497.9" cy="528.8" r="12.8"/><circle cx="1494" cy="849.1" r="12.8"/><circle cx="1442.7" cy="788.7" r="12.8"/><circle cx="1500.5" cy="742.1" r="12.8"/><circle cx="1426.5" cy="669.1" r="12.8"/><circle cx="1473.5" cy="751.5" r="12.8"/><circle cx="1504.1" cy="762.9" r="12.8"/><circle cx="1452.4" cy="608.7" r="12.8"/><circle cx="1502.2" cy="817.6" r="12.8"/><circle cx="1478.3" cy="597.7" r="12.8"/><circle cx="1428" cy="749.3" r="12.8"/><circle cx="1451.5" cy="774.3" r="12.8"/><circle cx="1461.1" cy="575.5" r="12.8"/><circle cx="1444.3" cy="821.8" r="12.8"/><circle cx="1485.4" cy="803.9" r="12.8"/><circle cx="1438.6" cy="630.8" r="12.8"/><circle cx="1489.2" cy="598.4" r="12.8"/><circle cx="1448.6" cy="764.8" r="12.8"/><circle cx="1429.6" cy="727.9" r="12.8"/><circle cx="1470.2" cy="571.4" r="12.8"/><circle cx="1431.7" cy="765.5" r="12.8"/><circle cx="1469.6" cy="725.1" r="12.8"/><circle cx="1489.2" cy="662.5" r="12.8"/><circle cx="1473.2" cy="892.4" r="12.8"/><circle cx="1462.1" cy="686.4" r="12.8"/><circle cx="1426.6" cy="837.8" r="12.8"/><circle cx="1466.4" cy="771.5" r="12.8"/><circle cx="1431.9" cy="741.4" r="12.8"/><circle cx="1477.5" cy="660.9" r="12.8"/><circle cx="1434.8" cy="804.7" r="12.8"/><circle cx="1471.8" cy="684.4" r="12.8"/><circle cx="1453.1" cy="738.3" r="12.8"/><circle cx="1454.9" cy="660.7" r="12.8"/><circle cx="1478.8" cy="699.7" r="12.8"/><circle cx="1437.4" cy="919.8" r="12.8"/><circle cx="1437.9" cy="758.6" r="12.8"/><circle cx="1501.9" cy="751.9" r="12.8"/><circle cx="1451.3" cy="713.6" r="12.8"/><circle cx="1493.7" cy="610.3" r="12.8"/><circle cx="1496.3" cy="697.7" r="12.8"/><circle cx="1463.7" cy="639.8" r="12.8"/><circle cx="1436.2" cy="658.5" r="12.8"/><circle cx="1431.6" cy="787.8" r="12.8"/><circle cx="1496.8" cy="625.2" r="12.8"/><circle cx="1433.5" cy="593.8" r="12.8"/><circle cx="1465" cy="845.6" r="12.8"/><circle cx="1468.3" cy="726.3" r="12.8"/><circle cx="1433.6" cy="833.7" r="12.8"/><circle cx="1462.6" cy="699.2" r="12.8"/><circle cx="1437.4" cy="706.5" r="12.8"/><circle cx="1468.2" cy="647.5" r="12.8"/><circle cx="1465.9" cy="743.7" r="12.8"/><circle cx="1454.3" cy="728.6" r="12.8"/><circle cx="1440.2" cy="800.8" r="12.8"/><circle cx="1457.3" cy="875.1" r="12.8"/><circle cx="1440.7" cy="702.7" r="12.8"/><circle cx="1434.4" cy="771.7" r="12.8"/><circle cx="1443.7" cy="861.6" r="12.8"/><circle cx="1496.1" cy="746" r="12.8"/><circle cx="1465.4" cy="671.3" r="12.8"/><circle cx="1497.7" cy="709.2" r="12.8"/><circle cx="1425.1" cy="760.8" r="12.8"/><circle cx="1502.1" cy="709.6" r="12.8"/><circle cx="1464.3" cy="634.4" r="12.8"/><circle cx="1489.5" cy="688.2" r="12.8"/><circle cx="1471.1" cy="603.1" r="12.8"/><circle cx="1481" cy="701" r="12.8"/><circle cx="1442.8" cy="679.6" r="12.8"/><circle cx="1486.1" cy="684.7" r="12.8"/><circle cx="1436.6" cy="611.2" r="12.8"/><circle cx="1445.7" cy="674.9" r="12.8"/>
</g>
<rect x="341.4" y="696.2" width="156.6" height="100.5" fill="#fff" fill-opacity="0.2" stroke="none"/>
<g stroke="#333333" fill="none" stroke-width="4" stroke-linejoin="miter">
<path d="M420 566.7 V696.2 M420 796.7 V927.5"/>
<rect x="341.4" y="696.2" width="156.6" height="100.5"/>
<path d="M341.4 748.9 H498" stroke-width="8"/>
</g>
<rect x="864.4" y="610.3" width="156.6" height="160.5" fill="#fff" fill-opacity="0.2" stroke="none"/>
<g stroke="#333333" fill="none" stroke-width="4" stroke-linejoin="miter">
<path d="M943 408 V610.3 M943 770.8 V988"/>
<rect x="864.4" y="610.3" width="156.6" height="160.5"/>
<path d="M864.4 690 H1021" stroke-width="8"/>
</g>
<rect x="1387.2" y="634.2" width="156.7" height="176.8" fill="#fff" fill-opacity="0.2" stroke="none"/>
<g stroke="#333333" fill="none" stroke-width="4" stroke-linejoin="miter">
<path d="M1465.3 369 V634.2 M1465.3 811 V1075"/>
<rect x="1387.2" y="634.2" width="156.7" height="176.8"/>
<path d="M1387.2 732.9 H1543.9" stroke-width="8"/>
</g>
<path d="M415 565 L413.9 567.7 L412.9 570.3 L412 573 L411.3 576 L410.7 579 L410.2 582 L409.6 585 L409 588 L408.2 591 L407.4 594 L406.5 597 L405.6 600 L404.5 603 L403.5 605.8 L402.4 608.6 L401.2 611.4 L399.7 614.2 L398 617 L394.9 620.3 L390.8 623.7 L386.5 627 L382.5 630.2 L378.4 633.5 L374.2 636.8 L370 640 L365.7 643.2 L361.2 646.5 L356.9 649.8 L353 653 L350 655.8 L347.2 658.6 L344.6 661.4 L342.2 664.2 L340 667 L337.7 670.2 L335.6 673.5 L333.7 676.8 L332 680 L330.7 683.2 L329.5 686.5 L328.4 689.8 L327 693 L325 696.3 L322.6 699.7 L320 703 L317.5 705.8 L314.6 708.7 L311.6 711.5 L308.6 714.3 L305.6 717.2 L303 720 L300.2 723.2 L297.4 726.5 L294.9 729.8 L293 733 L291.6 735.8 L290.3 738.6 L289.1 741.4 L288.3 744.2 L288 747 L288.3 750.2 L289.1 753.5 L290.2 756.8 L291.5 760 L293.1 763 L295.2 766 L297.6 769 L300 772 L302.3 775 L304.6 778 L306.9 781 L309.3 784 L311.7 787 L314.1 790 L316.5 793 L318.9 796 L321.4 799 L323.8 802 L326.3 805 L328.7 808 L331.3 811 L333.9 814 L336.5 817 L339.2 820 L342 823 L344.9 826 L347.8 829 L350.7 832 L353.6 835 L356.5 838 L359.2 840.8 L361.9 843.7 L364.6 846.5 L367.3 849.3 L370.1 852.2 L373 855 L376.2 858 L379.6 861 L383 864 L386.3 867 L389.5 870 L392.6 873 L395.6 876 L398.5 879 L401 882 L403.5 885.3 L405.7 888.7 L407.5 892 L408.9 895.2 L410 898.5 L411 901.8 L411.8 905 L412.4 908 L412.9 911 L413.4 914 L413.8 917 L414 920 L414.2 922.9 L414.3 925.8 L414.5 928.6 L414.6 931.5 L414.7 934.4 L414.7 937.2 L414.8 940.1 L414.8 943 L414.8 946 L414.8 949 L414.8 952 L414.8 955 L414.8 958 L414.8 961 L414.8 964 L414.4 966 L414.4 969 L414.4 972 L414.4 975 L414.4 978 L414.4 981 L414.4 984 L414.4 987 L414.4 990 L414.4 993 L414.4 996 L414.4 999 L414.4 1002 L414.4 1005 L414.4 1008 L414.4 1011 L414.4 1014 L414.4 1017 L414.4 1020 L414.4 1023 L414.4 1026 L414.4 1029 L414.4 1032 L414.4 1035 L414.4 1038 L414.4 1041 L414.4 1044 L414.4 1047 L414.4 1050 L414.4 1053 L425.6 1053 L425.6 1050 L425.6 1047 L425.6 1044 L425.6 1041 L425.6 1038 L425.6 1035 L425.6 1032 L425.6 1029 L425.6 1026 L425.6 1023 L425.6 1020 L425.6 1017 L425.6 1014 L425.6 1011 L425.6 1008 L425.6 1005 L425.6 1002 L425.6 999 L425.6 996 L425.6 993 L425.6 990 L425.6 987 L425.6 984 L425.6 981 L425.6 978 L425.6 975 L425.6 972 L425.6 969 L425.6 966 L425.2 964 L425.2 961 L425.2 958 L425.2 955 L425.2 952 L425.2 949 L425.2 946 L425.2 943 L425.2 940.1 L425.3 937.2 L425.3 934.4 L425.4 931.5 L425.5 928.6 L425.7 925.8 L425.8 922.9 L426 920 L426.2 917 L426.6 914 L427.1 911 L427.6 908 L428.2 905 L429 901.8 L430 898.5 L431.1 895.2 L432.5 892 L434.3 888.7 L436.5 885.3 L439 882 L441.5 879 L444.4 876 L447.4 873 L450.5 870 L453.7 867 L457 864 L460.4 861 L463.8 858 L467 855 L469.9 852.2 L472.7 849.3 L475.4 846.5 L478.1 843.7 L480.8 840.8 L483.5 838 L486.4 835 L489.3 832 L492.2 829 L495.1 826 L498 823 L500.8 820 L503.5 817 L506.1 814 L508.7 811 L511.3 808 L513.7 805 L516.2 802 L518.6 799 L521.1 796 L523.5 793 L525.9 790 L528.3 787 L530.7 784 L533.1 781 L535.4 778 L537.7 775 L540 772 L542.4 769 L544.8 766 L546.9 763 L548.5 760 L549.8 756.8 L550.9 753.5 L551.7 750.2 L552 747 L551.7 744.2 L550.9 741.4 L549.7 738.6 L548.4 735.8 L547 733 L545.1 729.8 L542.6 726.5 L539.8 723.2 L537 720 L534.4 717.2 L531.4 714.3 L528.4 711.5 L525.4 708.7 L522.5 705.8 L520 703 L517.4 699.7 L515 696.3 L513 693 L511.6 689.8 L510.5 686.5 L509.3 683.2 L508 680 L506.3 676.8 L504.4 673.5 L502.3 670.2 L500 667 L497.8 664.2 L495.4 661.4 L492.8 658.6 L490 655.8 L487 653 L483.1 649.8 L478.8 646.5 L474.3 643.2 L470 640 L465.8 636.8 L461.6 633.5 L457.5 630.2 L453.5 627 L449.2 623.7 L445.1 620.3 L442 617 L440.3 614.2 L438.8 611.4 L437.6 608.6 L436.5 605.8 L435.5 603 L434.4 600 L433.5 597 L432.6 594 L431.8 591 L431 588 L430.4 585 L429.8 582 L429.3 579 L428.7 576 L428 573 L427.1 570.3 L426.1 567.7 L425 565 Z" fill="#fff" fill-opacity="0.2" stroke="#333333" stroke-width="4.2" stroke-linejoin="round"/>
<path d="M942.4 295 L942.4 297.9 L942.3 300.8 L942.3 303.8 L942.3 306.7 L942.3 309.6 L942.3 312.5 L942.2 315.5 L942.2 318.4 L942.2 321.3 L942.1 324.2 L942.1 327.2 L942.1 330.1 L942 333 L941.9 335.9 L941.8 338.7 L941.6 341.6 L941.4 344.4 L941.2 347.3 L940.9 350.1 L940.7 353 L940.4 356 L940 359 L939.6 362 L939.2 365 L938.7 368 L938.2 371 L937.7 374 L937.2 377 L936.8 380 L936.3 383 L935.9 386.1 L935.4 389.2 L935 392.2 L934.6 395.3 L934.2 398.4 L933.7 401.5 L933.3 404.6 L932.9 407.7 L932.4 410.8 L932 413.8 L931.5 416.9 L931 420 L930.5 423 L930 426 L929.4 429 L928.9 432 L928.3 435 L927.7 438 L927.1 441 L926.5 444 L925.9 447 L925.3 450 L924.7 453 L924.1 456 L923.4 459 L922.8 462 L922.1 465 L921.4 468 L920.7 471 L920.1 474 L919.4 477 L918.8 480 L918.2 483 L917.6 486 L917 489 L916.4 492 L915.8 495 L915.3 498 L914.7 501 L914.2 504 L913.6 507 L913.1 510 L912.6 513 L912.1 516.1 L911.6 519.2 L911.2 522.3 L910.7 525.4 L910.3 528.5 L909.9 531.5 L909.4 534.6 L909 537.7 L908.5 540.8 L908.1 543.9 L907.6 547 L907.1 550 L906.6 553 L906.2 556 L905.7 559 L905.2 562 L904.7 565 L904.2 568 L903.6 571 L903 574 L902.4 577 L901.8 580 L901.1 583 L900.5 586 L899.7 589 L899 592 L898.2 595 L897.3 598 L896.4 601 L895.5 604 L894.5 607 L893.4 610 L892.2 612.9 L890.8 615.7 L889.3 618.6 L887.7 621.4 L886.1 624.3 L884.5 627.1 L883 630 L881.6 632.8 L880.2 635.7 L878.9 638.5 L877.6 641.3 L876.3 644.2 L875.1 647 L873.8 650.2 L872.5 653.4 L871.4 656.6 L870.3 659.8 L869.3 663 L868.5 665.8 L867.8 668.7 L867.2 671.5 L866.6 674.3 L866 677.2 L865.5 680 L865 682.8 L864.5 685.7 L864.1 688.5 L863.6 691.3 L863.3 694.2 L863 697 L862.7 700.2 L862.5 703.5 L862.3 706.8 L862.2 710 L862.2 713 L862.4 716 L862.5 719 L862.8 722 L863 725 L863.3 728 L863.8 731 L864.3 734 L864.9 737 L865.5 740 L866.1 743.1 L866.7 746.2 L867.3 749.3 L867.9 752.4 L868.6 755.5 L869.2 758.6 L869.9 761.7 L870.7 764.8 L871.4 767.9 L872.2 771 L873 774.2 L873.9 777.3 L874.8 780.5 L875.8 783.7 L876.9 786.8 L878 790 L879.1 792.8 L880.3 795.7 L881.5 798.5 L882.8 801.3 L884.1 804.2 L885.5 807 L887.1 810.2 L888.7 813.4 L890.4 816.6 L892.1 819.8 L893.8 823 L895.3 825.8 L896.8 828.7 L898.4 831.5 L899.9 834.3 L901.5 837.2 L903 840 L904.5 842.8 L906.1 845.7 L907.7 848.5 L909.2 851.3 L910.7 854.2 L912.2 857 L913.8 860.2 L915.3 863.4 L916.9 866.6 L918.3 869.8 L919.7 873 L920.9 875.8 L922.1 878.7 L923.3 881.5 L924.4 884.3 L925.4 887.2 L926.3 890 L927.1 892.8 L927.9 895.7 L928.6 898.5 L929.2 901.3 L929.9 904.2 L930.5 907 L931.1 909.9 L931.8 912.7 L932.4 915.6 L932.9 918.4 L933.5 921.3 L934 924.1 L934.4 927 L934.8 930.2 L935.2 933.4 L935.5 936.6 L935.8 939.8 L936.1 943 L936.3 945.8 L936.5 948.7 L936.7 951.5 L936.9 954.3 L937 957.2 L937.2 960 L937.4 962.8 L937.5 965.7 L937.6 968.5 L937.8 971.3 L937.9 974.2 L938.1 977 L938.3 979.8 L938.5 982.6 L938.7 985.4 L938.9 988.2 L939.1 991 L946.9 991 L947.1 988.2 L947.3 985.4 L947.5 982.6 L947.7 979.8 L947.9 977 L948.1 974.2 L948.2 971.3 L948.4 968.5 L948.5 965.7 L948.6 962.8 L948.8 960 L949 957.2 L949.1 954.3 L949.3 951.5 L949.5 948.7 L949.7 945.8 L949.9 943 L950.2 939.8 L950.5 936.6 L950.8 933.4 L951.2 930.2 L951.6 927 L952 924.1 L952.5 921.3 L953.1 918.4 L953.6 915.6 L954.2 912.7 L954.9 909.9 L955.5 907 L956.1 904.2 L956.8 901.3 L957.4 898.5 L958.1 895.7 L958.9 892.8 L959.7 890 L960.6 887.2 L961.6 884.3 L962.7 881.5 L963.9 878.7 L965.1 875.8 L966.3 873 L967.7 869.8 L969.1 866.6 L970.7 863.4 L972.2 860.2 L973.8 857 L975.3 854.2 L976.8 851.3 L978.3 848.5 L979.9 845.7 L981.5 842.8 L983 840 L984.5 837.2 L986.1 834.3 L987.6 831.5 L989.2 828.7 L990.7 825.8 L992.2 823 L993.9 819.8 L995.6 816.6 L997.3 813.4 L998.9 810.2 L1000.5 807 L1001.9 804.2 L1003.2 801.3 L1004.5 798.5 L1005.7 795.7 L1006.9 792.8 L1008 790 L1009.1 786.8 L1010.2 783.7 L1011.2 780.5 L1012.1 777.3 L1013 774.2 L1013.8 771 L1014.6 767.9 L1015.3 764.8 L1016.1 761.7 L1016.8 758.6 L1017.4 755.5 L1018.1 752.4 L1018.7 749.3 L1019.3 746.2 L1019.9 743.1 L1020.5 740 L1021.1 737 L1021.7 734 L1022.2 731 L1022.7 728 L1023 725 L1023.2 722 L1023.5 719 L1023.6 716 L1023.8 713 L1023.8 710 L1023.7 706.8 L1023.5 703.5 L1023.3 700.2 L1023 697 L1022.7 694.2 L1022.4 691.3 L1021.9 688.5 L1021.5 685.7 L1021 682.8 L1020.5 680 L1020 677.2 L1019.4 674.3 L1018.8 671.5 L1018.2 668.7 L1017.5 665.8 L1016.7 663 L1015.7 659.8 L1014.6 656.6 L1013.5 653.4 L1012.2 650.2 L1010.9 647 L1009.7 644.2 L1008.4 641.3 L1007.1 638.5 L1005.8 635.7 L1004.4 632.8 L1003 630 L1001.5 627.1 L999.9 624.3 L998.3 621.4 L996.7 618.6 L995.2 615.7 L993.8 612.9 L992.6 610 L991.5 607 L990.5 604 L989.6 601 L988.7 598 L987.8 595 L987 592 L986.3 589 L985.5 586 L984.9 583 L984.2 580 L983.6 577 L983 574 L982.4 571 L981.8 568 L981.3 565 L980.8 562 L980.3 559 L979.8 556 L979.4 553 L978.9 550 L978.4 547 L977.9 543.9 L977.5 540.8 L977 537.7 L976.6 534.6 L976.1 531.5 L975.7 528.5 L975.3 525.4 L974.8 522.3 L974.4 519.2 L973.9 516.1 L973.4 513 L972.9 510 L972.4 507 L971.8 504 L971.3 501 L970.7 498 L970.2 495 L969.6 492 L969 489 L968.4 486 L967.8 483 L967.2 480 L966.6 477 L965.9 474 L965.3 471 L964.6 468 L963.9 465 L963.2 462 L962.6 459 L961.9 456 L961.3 453 L960.7 450 L960.1 447 L959.5 444 L958.9 441 L958.3 438 L957.7 435 L957.1 432 L956.6 429 L956 426 L955.5 423 L955 420 L954.5 416.9 L954 413.8 L953.6 410.8 L953.1 407.7 L952.7 404.6 L952.3 401.5 L951.8 398.4 L951.4 395.3 L951 392.2 L950.6 389.2 L950.1 386.1 L949.7 383 L949.2 380 L948.8 377 L948.3 374 L947.8 371 L947.3 368 L946.8 365 L946.4 362 L946 359 L945.6 356 L945.3 353 L945.1 350.1 L944.8 347.3 L944.6 344.4 L944.4 341.6 L944.2 338.7 L944.1 335.9 L944 333 L943.9 330.1 L943.9 327.2 L943.9 324.2 L943.8 321.3 L943.8 318.4 L943.8 315.5 L943.7 312.5 L943.7 309.6 L943.7 306.7 L943.7 303.8 L943.7 300.8 L943.6 297.9 L943.6 295 Z" fill="#fff" fill-opacity="0.2" stroke="#333333" stroke-width="4.2" stroke-linejoin="round"/>
<path d="M1464.8 72.5 L1464.8 75.5 L1464.8 78.5 L1464.7 81.4 L1464.7 84.4 L1464.7 87.4 L1464.7 90.4 L1464.7 93.3 L1464.7 96.3 L1464.6 99.3 L1464.6 102.3 L1464.6 105.2 L1464.6 108.2 L1464.6 111.2 L1464.6 114.2 L1464.5 117.1 L1464.5 120.1 L1464.5 123.1 L1464.5 126.1 L1464.5 129 L1464.4 132 L1464.4 135 L1464.4 138.1 L1464.3 141.1 L1464.3 144.2 L1464.3 147.2 L1464.2 150.3 L1464.2 153.3 L1464.1 156.4 L1464.1 159.4 L1464 162.5 L1464 165.5 L1463.9 168.6 L1463.9 171.6 L1463.8 174.7 L1463.8 177.7 L1463.7 180.8 L1463.7 183.8 L1463.6 186.9 L1463.6 189.9 L1463.5 193 L1463.4 196 L1463.4 199.1 L1463.3 202.1 L1463.3 205.2 L1463.2 208.2 L1463.2 211.3 L1463.1 214.3 L1463.1 217.4 L1463 220.4 L1462.9 223.5 L1462.9 226.5 L1462.8 229.6 L1462.8 232.6 L1462.7 235.7 L1462.6 238.7 L1462.6 241.8 L1462.5 244.8 L1462.5 247.9 L1462.4 250.9 L1462.4 254 L1462.3 257 L1462.2 260.1 L1462.2 263.1 L1462.1 266.2 L1462.1 269.3 L1462 272.4 L1462 275.4 L1461.9 278.5 L1461.9 281.6 L1461.8 284.6 L1461.7 287.7 L1461.7 290.8 L1461.6 293.9 L1461.6 296.9 L1461.5 300 L1461.4 302.9 L1461.4 305.9 L1461.3 308.8 L1461.3 311.8 L1461.2 314.7 L1461.1 317.6 L1461.1 320.6 L1461 323.5 L1460.9 326.5 L1460.9 329.4 L1460.8 332.4 L1460.7 335.3 L1460.6 338.2 L1460.5 341.2 L1460.5 344.1 L1460.4 347.1 L1460.3 350 L1460.2 353 L1460.1 356.1 L1460 359.1 L1459.9 362.2 L1459.8 365.2 L1459.7 368.3 L1459.6 371.3 L1459.5 374.4 L1459.4 377.4 L1459.2 380.5 L1459.1 383.5 L1459 386.5 L1458.9 389.6 L1458.7 392.6 L1458.6 395.7 L1458.5 398.7 L1458.3 401.8 L1458.2 404.8 L1458 407.9 L1457.9 410.9 L1457.7 414 L1457.6 417 L1457.4 420 L1457.3 423 L1457.1 426 L1457 429 L1456.8 432 L1456.6 435 L1456.4 438 L1456.2 441 L1456 444 L1455.8 447 L1455.6 450 L1455.4 452.9 L1455.2 455.9 L1454.9 458.8 L1454.7 461.7 L1454.5 464.7 L1454.2 467.6 L1454 470.5 L1453.7 473.5 L1453.5 476.4 L1453.2 479.3 L1452.9 482.3 L1452.6 485.2 L1452.3 488.1 L1451.9 491.1 L1451.6 494 L1451.2 497 L1450.8 500 L1450.4 503 L1449.9 506 L1449.5 509 L1449 512 L1448.4 515 L1447.9 518 L1447.3 521 L1446.7 524 L1446.1 527 L1445.5 530 L1444.9 533 L1444.3 536 L1443.6 539 L1442.9 541.9 L1442.2 544.9 L1441.4 547.8 L1440.6 550.7 L1439.8 553.7 L1438.9 556.6 L1438.1 559.5 L1437.2 562.5 L1436.3 565.4 L1435.3 568.3 L1434.4 571.3 L1433.5 574.2 L1432.6 577.1 L1431.8 580.1 L1430.9 583 L1430 586 L1429.2 589 L1428.3 592 L1427.4 595 L1426.6 598 L1425.7 601 L1424.8 604 L1423.9 607 L1423.1 610 L1422.2 613 L1421.4 616 L1420.5 619 L1419.7 622 L1418.8 625 L1418 628 L1417.2 631 L1416.4 634 L1415.6 636.9 L1414.9 639.8 L1414.1 642.8 L1413.4 645.7 L1412.7 648.6 L1412 651.5 L1411.3 654.5 L1410.6 657.4 L1409.8 660.3 L1409.1 663.2 L1408.4 666.2 L1407.7 669.1 L1407 672 L1406.3 675 L1405.5 678 L1404.7 681 L1404 684 L1403.2 687 L1402.4 690 L1401.7 693 L1400.9 696 L1400.2 699 L1399.4 702 L1398.7 705 L1398 708 L1397.3 711 L1396.6 714 L1395.9 717 L1395.3 719.9 L1394.6 722.8 L1394 725.6 L1393.3 728.5 L1392.7 731.4 L1392.2 734.2 L1391.7 737.1 L1391.3 740 L1390.9 743.1 L1390.5 746.3 L1390.2 749.4 L1389.9 752.6 L1389.6 755.7 L1389.5 758.9 L1389.4 762 L1389.5 765.2 L1389.7 768.4 L1390 771.6 L1390.4 774.8 L1390.8 778 L1391.4 780.8 L1392.3 783.5 L1393.3 786.2 L1394.3 789 L1395.4 792.1 L1396.4 795.3 L1397.5 798.4 L1398.7 801.6 L1399.8 804.7 L1400.9 807.9 L1402 811 L1403.1 814.1 L1404.2 817.3 L1405.3 820.4 L1406.4 823.6 L1407.5 826.7 L1408.6 829.9 L1409.7 833 L1410.7 836 L1411.7 839 L1412.7 842 L1413.7 845 L1414.7 848 L1415.7 851 L1416.7 854 L1417.7 857 L1418.7 860 L1419.7 863 L1420.7 866 L1421.7 869 L1422.7 872 L1423.8 875 L1424.8 878 L1425.8 880.9 L1426.9 883.9 L1428 886.8 L1429 889.7 L1430.1 892.7 L1431.2 895.6 L1432.3 898.5 L1433.4 901.5 L1434.5 904.4 L1435.6 907.3 L1436.7 910.3 L1437.8 913.2 L1438.8 916.1 L1439.9 919.1 L1440.9 922 L1442 925.1 L1443.1 928.3 L1444.2 931.4 L1445.2 934.6 L1446.2 937.7 L1447.2 940.9 L1448.1 944 L1448.9 946.9 L1449.6 949.8 L1450.4 952.6 L1451.1 955.5 L1451.7 958.4 L1452.4 961.2 L1453 964.1 L1453.6 967 L1454.3 970.2 L1454.9 973.4 L1455.5 976.6 L1456.1 979.8 L1456.5 983 L1456.9 985.8 L1457.1 988.7 L1457.4 991.5 L1457.6 994.3 L1457.9 997.2 L1458.1 1000 L1458.4 1002.8 L1458.7 1005.7 L1458.9 1008.5 L1459.2 1011.3 L1459.5 1014.2 L1459.7 1017 L1459.9 1020 L1460.1 1023 L1460.3 1026 L1460.5 1029 L1460.6 1032 L1460.8 1035 L1460.9 1038 L1461.1 1041 L1461.2 1044 L1461.4 1047 L1461.5 1050 L1461.7 1053 L1461.9 1056 L1462 1059 L1462.2 1062 L1462.3 1065 L1462.5 1068 L1462.7 1071 L1462.8 1074 L1463 1077 L1463.1 1080 L1463.3 1083 L1463.5 1085.8 L1463.7 1088.7 L1463.9 1091.5 L1464.1 1094.3 L1464.2 1097.2 L1464.3 1100 L1464.4 1103.1 L1464.4 1106.2 L1464.5 1109.2 L1464.5 1112.3 L1464.6 1115.4 L1464.6 1118.5 L1464.6 1121.5 L1464.6 1124.6 L1464.7 1127.7 L1464.7 1130.8 L1464.7 1133.8 L1464.8 1136.9 L1464.8 1140 L1465.8 1140 L1465.8 1136.9 L1465.9 1133.8 L1465.9 1130.8 L1465.9 1127.7 L1466 1124.6 L1466 1121.5 L1466 1118.5 L1466 1115.4 L1466.1 1112.3 L1466.1 1109.2 L1466.2 1106.2 L1466.2 1103.1 L1466.3 1100 L1466.4 1097.2 L1466.5 1094.3 L1466.7 1091.5 L1466.9 1088.7 L1467.1 1085.8 L1467.3 1083 L1467.5 1080 L1467.6 1077 L1467.8 1074 L1467.9 1071 L1468.1 1068 L1468.3 1065 L1468.4 1062 L1468.6 1059 L1468.7 1056 L1468.9 1053 L1469 1050 L1469.2 1047 L1469.4 1044 L1469.5 1041 L1469.7 1038 L1469.8 1035 L1470 1032 L1470.1 1029 L1470.3 1026 L1470.5 1023 L1470.7 1020 L1470.9 1017 L1471.1 1014.2 L1471.4 1011.3 L1471.7 1008.5 L1471.9 1005.7 L1472.2 1002.8 L1472.5 1000 L1472.7 997.2 L1473 994.3 L1473.2 991.5 L1473.5 988.7 L1473.7 985.8 L1474 983 L1474.5 979.8 L1475.1 976.6 L1475.7 973.4 L1476.3 970.2 L1477 967 L1477.6 964.1 L1478.2 961.2 L1478.9 958.4 L1479.5 955.5 L1480.2 952.6 L1481 949.8 L1481.7 946.9 L1482.5 944 L1483.4 940.9 L1484.4 937.7 L1485.4 934.6 L1486.4 931.4 L1487.5 928.3 L1488.6 925.1 L1489.7 922 L1490.7 919.1 L1491.8 916.1 L1492.8 913.2 L1493.9 910.3 L1495 907.3 L1496.1 904.4 L1497.2 901.5 L1498.3 898.5 L1499.4 895.6 L1500.5 892.7 L1501.6 889.7 L1502.6 886.8 L1503.7 883.9 L1504.8 880.9 L1505.8 878 L1506.8 875 L1507.9 872 L1508.9 869 L1509.9 866 L1510.9 863 L1511.9 860 L1512.9 857 L1513.9 854 L1514.9 851 L1515.9 848 L1516.9 845 L1517.9 842 L1518.9 839 L1519.9 836 L1520.9 833 L1522 829.9 L1523.1 826.7 L1524.2 823.6 L1525.3 820.4 L1526.4 817.3 L1527.5 814.1 L1528.6 811 L1529.7 807.9 L1530.8 804.7 L1531.9 801.6 L1533.1 798.4 L1534.2 795.3 L1535.2 792.1 L1536.3 789 L1537.3 786.2 L1538.3 783.5 L1539.2 780.8 L1539.8 778 L1540.2 774.8 L1540.6 771.6 L1540.9 768.4 L1541.1 765.2 L1541.2 762 L1541.1 758.9 L1541 755.7 L1540.7 752.6 L1540.4 749.4 L1540.1 746.3 L1539.7 743.1 L1539.3 740 L1538.9 737.1 L1538.4 734.2 L1537.9 731.4 L1537.3 728.5 L1536.6 725.6 L1536 722.8 L1535.3 719.9 L1534.7 717 L1534 714 L1533.3 711 L1532.6 708 L1531.9 705 L1531.2 702 L1530.4 699 L1529.7 696 L1528.9 693 L1528.2 690 L1527.4 687 L1526.6 684 L1525.9 681 L1525.1 678 L1524.3 675 L1523.6 672 L1522.9 669.1 L1522.2 666.2 L1521.5 663.2 L1520.8 660.3 L1520 657.4 L1519.3 654.5 L1518.6 651.5 L1517.9 648.6 L1517.2 645.7 L1516.5 642.8 L1515.7 639.8 L1515 636.9 L1514.2 634 L1513.4 631 L1512.6 628 L1511.8 625 L1510.9 622 L1510.1 619 L1509.2 616 L1508.4 613 L1507.5 610 L1506.7 607 L1505.8 604 L1504.9 601 L1504 598 L1503.2 595 L1502.3 592 L1501.4 589 L1500.6 586 L1499.7 583 L1498.8 580.1 L1498 577.1 L1497.1 574.2 L1496.2 571.3 L1495.3 568.3 L1494.3 565.4 L1493.4 562.5 L1492.5 559.5 L1491.7 556.6 L1490.8 553.7 L1490 550.7 L1489.2 547.8 L1488.4 544.9 L1487.7 541.9 L1487 539 L1486.3 536 L1485.7 533 L1485.1 530 L1484.5 527 L1483.9 524 L1483.3 521 L1482.7 518 L1482.2 515 L1481.6 512 L1481.1 509 L1480.7 506 L1480.2 503 L1479.8 500 L1479.4 497 L1479 494 L1478.7 491.1 L1478.3 488.1 L1478 485.2 L1477.7 482.3 L1477.4 479.3 L1477.1 476.4 L1476.9 473.5 L1476.6 470.5 L1476.4 467.6 L1476.1 464.7 L1475.9 461.7 L1475.7 458.8 L1475.4 455.9 L1475.2 452.9 L1475 450 L1474.8 447 L1474.6 444 L1474.4 441 L1474.2 438 L1474 435 L1473.8 432 L1473.6 429 L1473.5 426 L1473.3 423 L1473.2 420 L1473 417 L1472.9 414 L1472.7 410.9 L1472.6 407.9 L1472.4 404.8 L1472.3 401.8 L1472.1 398.7 L1472 395.7 L1471.9 392.6 L1471.7 389.6 L1471.6 386.5 L1471.5 383.5 L1471.4 380.5 L1471.2 377.4 L1471.1 374.4 L1471 371.3 L1470.9 368.3 L1470.8 365.2 L1470.7 362.2 L1470.6 359.1 L1470.5 356.1 L1470.4 353 L1470.3 350 L1470.2 347.1 L1470.1 344.1 L1470.1 341.2 L1470 338.2 L1469.9 335.3 L1469.8 332.4 L1469.7 329.4 L1469.7 326.5 L1469.6 323.5 L1469.5 320.6 L1469.5 317.6 L1469.4 314.7 L1469.3 311.8 L1469.3 308.8 L1469.2 305.9 L1469.2 302.9 L1469.1 300 L1469 296.9 L1469 293.9 L1468.9 290.8 L1468.9 287.7 L1468.8 284.6 L1468.7 281.6 L1468.7 278.5 L1468.6 275.4 L1468.6 272.4 L1468.5 269.3 L1468.5 266.2 L1468.4 263.1 L1468.4 260.1 L1468.3 257 L1468.2 254 L1468.2 250.9 L1468.1 247.9 L1468.1 244.8 L1468 241.8 L1468 238.7 L1467.9 235.7 L1467.8 232.6 L1467.8 229.6 L1467.7 226.5 L1467.7 223.5 L1467.6 220.4 L1467.5 217.4 L1467.5 214.3 L1467.4 211.3 L1467.4 208.2 L1467.3 205.2 L1467.3 202.1 L1467.2 199.1 L1467.2 196 L1467.1 193 L1467 189.9 L1467 186.9 L1466.9 183.8 L1466.9 180.8 L1466.8 177.7 L1466.8 174.7 L1466.7 171.6 L1466.7 168.6 L1466.6 165.5 L1466.6 162.5 L1466.5 159.4 L1466.5 156.4 L1466.4 153.3 L1466.4 150.3 L1466.3 147.2 L1466.3 144.2 L1466.3 141.1 L1466.2 138.1 L1466.2 135 L1466.2 132 L1466.1 129 L1466.1 126.1 L1466.1 123.1 L1466.1 120.1 L1466.1 117.1 L1466 114.2 L1466 111.2 L1466 108.2 L1466 105.2 L1466 102.3 L1466 99.3 L1465.9 96.3 L1465.9 93.3 L1465.9 90.4 L1465.9 87.4 L1465.9 84.4 L1465.9 81.4 L1465.8 78.5 L1465.8 75.5 L1465.8 72.5 Z" fill="#fff" fill-opacity="0.2" stroke="#333333" stroke-width="4.2" stroke-linejoin="round"/>
<circle cx="420.4" cy="753.3" r="23.3" fill="#8B0000"/>
<circle cx="943.4" cy="683.6" r="23.3" fill="#8B0000"/>
<circle cx="1465.2" cy="716.3" r="23.3" fill="#8B0000"/>
<path d="M520.4 753.1 H425.1" stroke="#000" stroke-width="4.3" stroke-dasharray="6.5 10 17.8 10" fill="none"/>
<g transform="translate(518 718.9)">
<rect x="0" y="0" width="222" height="68" rx="8.5" ry="8.5" fill="#fff" stroke="#000" stroke-width="2"/>
<g transform="translate(0 0)">
<path d="M14.9 24.35 L26 15.5 L37.1 24.35" fill="none" stroke="#000" stroke-width="2.5" stroke-linejoin="miter"/>
<g fill="none" stroke="#000" stroke-linecap="butt" stroke-linejoin="round"><path d="M19.45 31.1 V46.1" stroke-width="2.9"/><path d="M19.4 41.6 C19.6 46.7 26.6 47.7 30.4 40.6" stroke-width="2.4"/><path d="M30.5 31.1 V42.6 C30.5 46.7 33.8 46.5 35 43.5" stroke-width="2.8"/></g>
<path d="M18.6 45.6 L20.3 45.6 C20.3 48.1 20.4 50.6 20.3 52.1 C20.2 53.7 19.5 54.2 18.6 54.2 C17.6 54.2 16.8 53.5 16.9 52.3 C17 50.6 18.6 48.6 18.6 45.6 Z" fill="#000"/>
<text x="35.8" y="53.7" font-family="Liberation Sans, sans-serif" font-size="25.6" fill="#000">mean</text>
<path d="M108.4 35 H127.3 M108.4 41.1 H127.3" stroke="#000" stroke-width="2.3" fill="none"/>
<text x="136.6" y="46.9" font-family="Liberation Sans, sans-serif" font-size="36" fill="#000">5.37</text>
</g></g>
<path d="M1043.4 683.1 H948.1" stroke="#000" stroke-width="4.3" stroke-dasharray="6.5 10 17.8 10" fill="none"/>
<g transform="translate(1041 648.9)">
<rect x="0" y="0" width="221" height="67.2" rx="8.5" ry="8.5" fill="#fff" stroke="#000" stroke-width="2"/>
<g transform="translate(0 -0.5)">
<path d="M14.9 24.35 L26 15.5 L37.1 24.35" fill="none" stroke="#000" stroke-width="2.5" stroke-linejoin="miter"/>
<g fill="none" stroke="#000" stroke-linecap="butt" stroke-linejoin="round"><path d="M19.45 31.1 V46.1" stroke-width="2.9"/><path d="M19.4 41.6 C19.6 46.7 26.6 47.7 30.4 40.6" stroke-width="2.4"/><path d="M30.5 31.1 V42.6 C30.5 46.7 33.8 46.5 35 43.5" stroke-width="2.8"/></g>
<path d="M18.6 45.6 L20.3 45.6 C20.3 48.1 20.4 50.6 20.3 52.1 C20.2 53.7 19.5 54.2 18.6 54.2 C17.6 54.2 16.8 53.5 16.9 52.3 C17 50.6 18.6 48.6 18.6 45.6 Z" fill="#000"/>
<text x="35.8" y="53.7" font-family="Liberation Sans, sans-serif" font-size="25.6" fill="#000">mean</text>
<path d="M108.4 35 H127.3 M108.4 41.1 H127.3" stroke="#000" stroke-width="2.3" fill="none"/>
<text x="136.6" y="46.9" font-family="Liberation Sans, sans-serif" font-size="36" fill="#000">5.58</text>
</g></g>
<path d="M1545.4 716.1 H1469.9" stroke="#000" stroke-width="4.3" stroke-dasharray="6.5 10 17.8 10" fill="none"/>
<g transform="translate(1543 681.9)">
<rect x="0" y="0" width="221" height="68" rx="8.5" ry="8.5" fill="#fff" stroke="#000" stroke-width="2"/>
<g transform="translate(0 0)">
<path d="M14.9 24.35 L26 15.5 L37.1 24.35" fill="none" stroke="#000" stroke-width="2.5" stroke-linejoin="miter"/>
<g fill="none" stroke="#000" stroke-linecap="butt" stroke-linejoin="round"><path d="M19.45 31.1 V46.1" stroke-width="2.9"/><path d="M19.4 41.6 C19.6 46.7 26.6 47.7 30.4 40.6" stroke-width="2.4"/><path d="M30.5 31.1 V42.6 C30.5 46.7 33.8 46.5 35 43.5" stroke-width="2.8"/></g>
<path d="M18.6 45.6 L20.3 45.6 C20.3 48.1 20.4 50.6 20.3 52.1 C20.2 53.7 19.5 54.2 18.6 54.2 C17.6 54.2 16.8 53.5 16.9 52.3 C17 50.6 18.6 48.6 18.6 45.6 Z" fill="#000"/>
<text x="35.8" y="53.7" font-family="Liberation Sans, sans-serif" font-size="25.6" fill="#000">mean</text>
<path d="M108.4 35 H127.3 M108.4 41.1 H127.3" stroke="#000" stroke-width="2.3" fill="none"/>
<text x="136.6" y="46.9" font-family="Liberation Sans, sans-serif" font-size="36" fill="#000">5.48</text>
</g></g>
</svg>
</body></html>
